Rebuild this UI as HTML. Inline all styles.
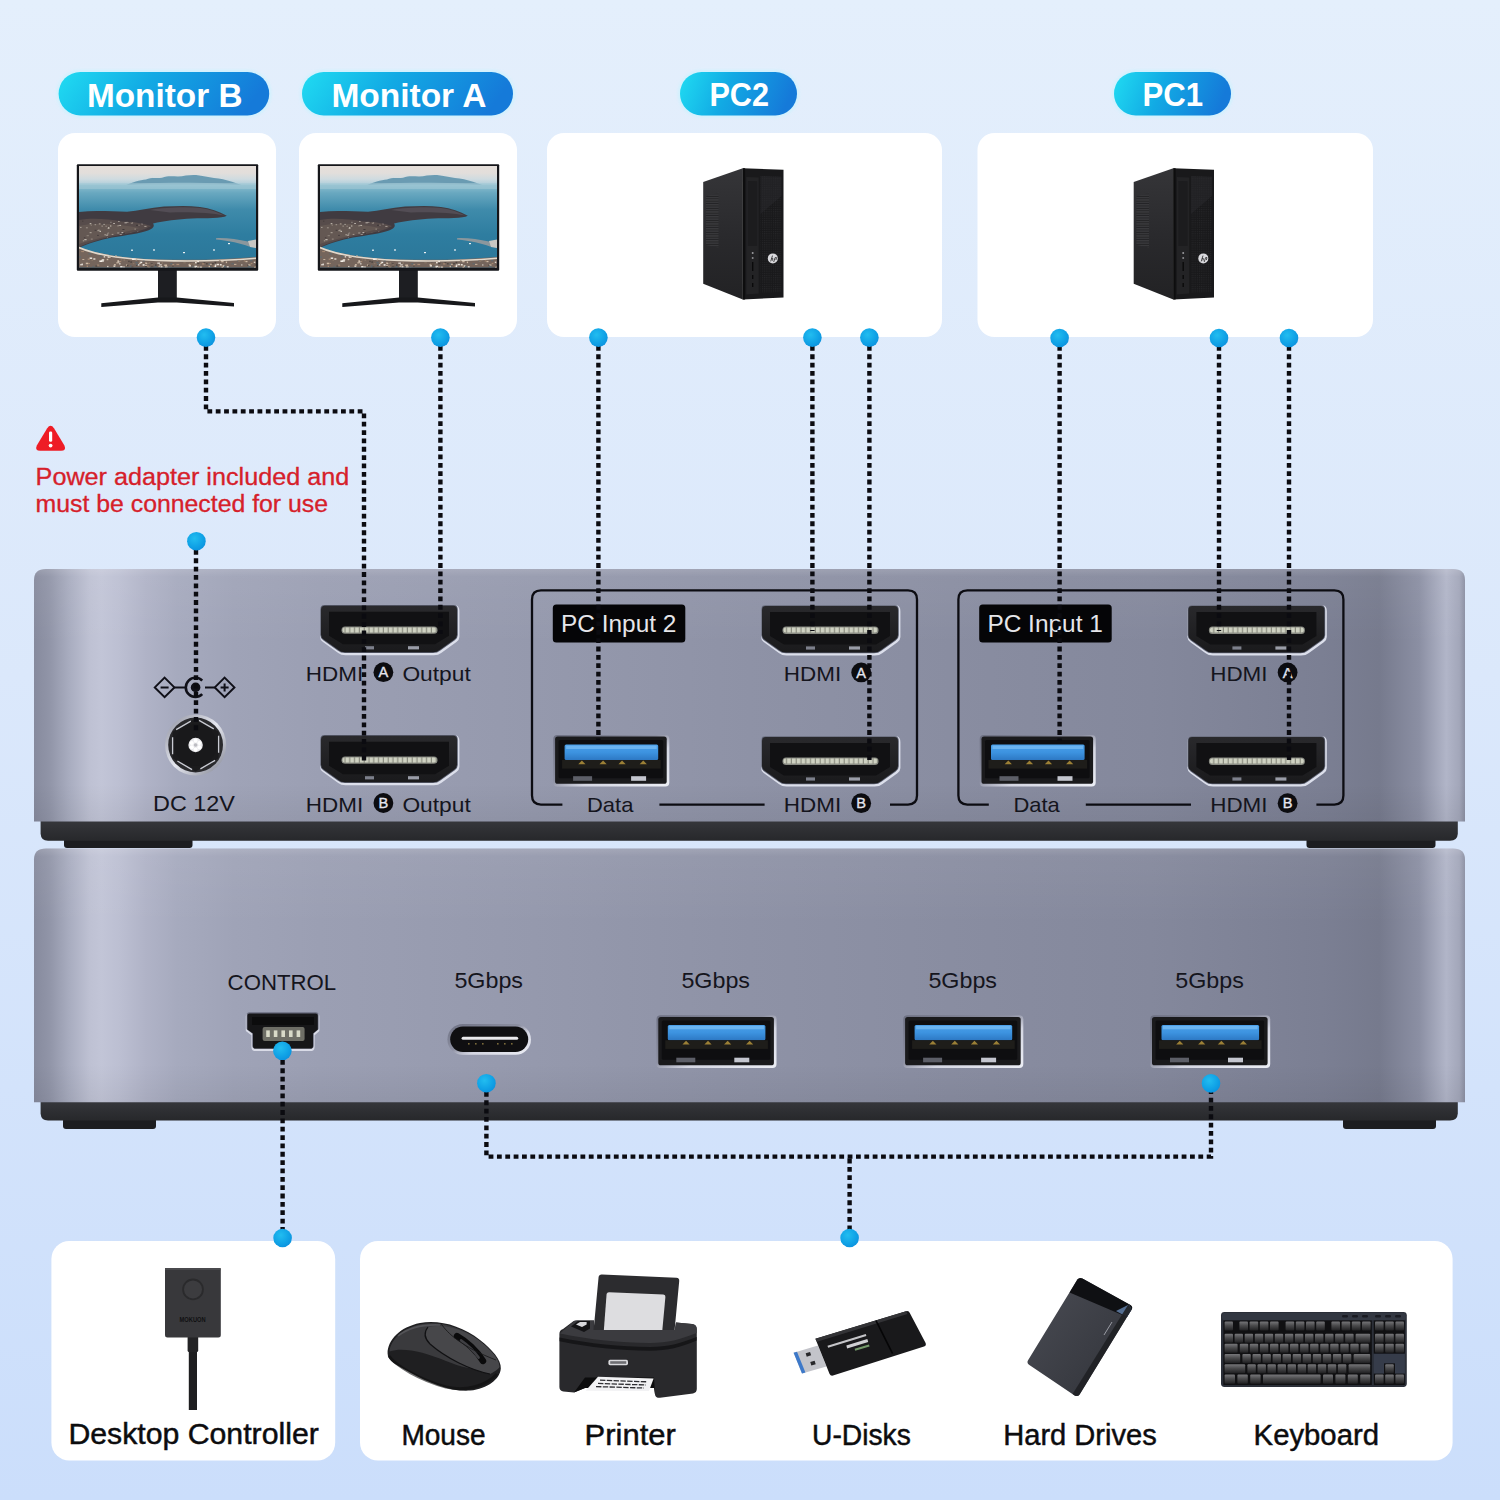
<!DOCTYPE html>
<html><head><meta charset="utf-8"><title>KVM connection diagram</title>
<style>
html,body{margin:0;padding:0;background:#d9e7fb;}
body{width:1500px;height:1500px;overflow:hidden;font-family:"Liberation Sans",sans-serif;}
svg{display:block;font-family:"Liberation Sans",sans-serif;}
</style></head><body>
<svg width="1500" height="1500" viewBox="0 0 1500 1500">
<defs>
<linearGradient id="gBg" x1="0" y1="0" x2="0" y2="1">
 <stop offset="0" stop-color="#e4effc"/><stop offset="0.45" stop-color="#dbe8fb"/><stop offset="1" stop-color="#cbdefb"/>
</linearGradient>
<linearGradient id="gPill" x1="0" y1="0" x2="1" y2="0.15">
 <stop offset="0" stop-color="#20dcf2"/><stop offset="0.45" stop-color="#12aae4"/><stop offset="1" stop-color="#157ad9"/>
</linearGradient>
<radialGradient id="gDot" cx="0.4" cy="0.35" r="0.75">
 <stop offset="0" stop-color="#22bdf0"/><stop offset="0.6" stop-color="#10a2e6"/><stop offset="1" stop-color="#0b8edc"/>
</radialGradient>
<filter id="blur2" x="-10%" y="-30%" width="120%" height="160%"><feGaussianBlur stdDeviation="1.6"/></filter>
<filter id="blur1"><feGaussianBlur stdDeviation="0.7"/></filter>
<linearGradient id="gBody" gradientUnits="userSpaceOnUse" x1="34" y1="0" x2="1465" y2="0">
 <stop offset="0" stop-color="#868a9d"/>
 <stop offset="0.011" stop-color="#9195a8"/>
 <stop offset="0.025" stop-color="#a9adc0"/>
 <stop offset="0.039" stop-color="#bec1d3"/>
 <stop offset="0.047" stop-color="#c2c5d7"/>
 <stop offset="0.06" stop-color="#bcbfd2"/>
 <stop offset="0.078" stop-color="#b0b3c7"/>
 <stop offset="0.1" stop-color="#a6aabe"/>
 <stop offset="0.14" stop-color="#9fa3b7"/>
 <stop offset="0.2" stop-color="#9b9fb3"/>
 <stop offset="0.35" stop-color="#9599ad"/>
 <stop offset="0.5" stop-color="#8e92a6"/>
 <stop offset="0.78" stop-color="#84889c"/>
 <stop offset="0.9" stop-color="#7b7f93"/>
 <stop offset="0.94" stop-color="#767a8d"/>
 <stop offset="0.968" stop-color="#8b8fa3"/>
 <stop offset="0.987" stop-color="#b1b5c8"/>
 <stop offset="0.996" stop-color="#a3a7ba"/>
 <stop offset="1" stop-color="#8b8fa2"/>
</linearGradient>
<linearGradient id="gBodyV" x1="0" y1="0" x2="0" y2="1">
 <stop offset="0" stop-color="#ffffff" stop-opacity="0.16"/>
 <stop offset="0.03" stop-color="#ffffff" stop-opacity="0.05"/>
 <stop offset="0.3" stop-color="#ffffff" stop-opacity="0"/>
 <stop offset="0.85" stop-color="#000000" stop-opacity="0"/>
 <stop offset="1" stop-color="#000000" stop-opacity="0.05"/>
</linearGradient>
<linearGradient id="gBand" x1="0" y1="0" x2="0" y2="1">
 <stop offset="0" stop-color="#3a3b40"/><stop offset="0.5" stop-color="#303135"/><stop offset="1" stop-color="#27282b"/>
</linearGradient>
<linearGradient id="gPort" x1="0" y1="0" x2="0" y2="1">
 <stop offset="0" stop-color="#29292c"/><stop offset="1" stop-color="#1a1a1c"/>
</linearGradient>
<pattern id="pPins" width="4.8" height="6" patternUnits="userSpaceOnUse">
 <rect width="4.8" height="6" fill="#cfd2c2"/><rect x="3.6" width="1.2" height="6" fill="#8b8d80"/>
</pattern>
<linearGradient id="gBlue" x1="0" y1="0" x2="0" y2="1">
 <stop offset="0" stop-color="#4aa0ea"/><stop offset="0.5" stop-color="#3d93e0"/><stop offset="1" stop-color="#2d78c4"/>
</linearGradient>
<linearGradient id="gSky" x1="0" y1="0" x2="0" y2="1">
 <stop offset="0" stop-color="#e6dfda"/><stop offset="0.07" stop-color="#e2dedb"/><stop offset="0.13" stop-color="#cfdbe0"/><stop offset="0.19" stop-color="#a9ccd9"/><stop offset="0.22" stop-color="#9cc5d4"/>
</linearGradient>
<linearGradient id="gSea" x1="0" y1="0" x2="0" y2="1">
 <stop offset="0" stop-color="#8fc0d0"/><stop offset="0.1" stop-color="#69a8c0"/><stop offset="0.3" stop-color="#3f8bab"/><stop offset="0.6" stop-color="#2e7da0"/><stop offset="1" stop-color="#2b7698"/>
</linearGradient>
<clipPath id="cScreen"><rect x="79" y="166" width="177" height="101.4"/></clipPath>
<linearGradient id="gTowerSide" x1="0" y1="0" x2="0" y2="1">
 <stop offset="0" stop-color="#353538"/><stop offset="0.5" stop-color="#2a2a2d"/><stop offset="1" stop-color="#222224"/>
</linearGradient>
<pattern id="pVent" width="4" height="2.4" patternUnits="userSpaceOnUse">
 <rect width="4" height="2.4" fill="#39393c"/><rect y="1.5" width="4" height="0.9" fill="#222224"/>
</pattern>
<pattern id="pMesh" width="2.2" height="2.2" patternUnits="userSpaceOnUse">
 <rect width="2.2" height="2.2" fill="#19191b"/><rect width="1.1" height="1.1" fill="#303033"/>
</pattern>
<linearGradient id="gRim" x1="0" y1="0" x2="1" y2="1">
 <stop offset="0" stop-color="#6d7082"/><stop offset="0.45" stop-color="#8d90a2"/><stop offset="0.62" stop-color="#d4d6e2"/><stop offset="1" stop-color="#eceef5"/>
</linearGradient>
<linearGradient id="gKey" x1="0" y1="0" x2="0" y2="1">
 <stop offset="0" stop-color="#77777a"/><stop offset="0.45" stop-color="#4a4a4c"/><stop offset="1" stop-color="#202022"/>
</linearGradient>
<linearGradient id="gMouse" x1="0" y1="0" x2="1" y2="1">
 <stop offset="0" stop-color="#48484b"/><stop offset="0.5" stop-color="#2d2d30"/><stop offset="1" stop-color="#1b1b1d"/>
</linearGradient>
<linearGradient id="gHdd" x1="0" y1="0" x2="1" y2="1">
 <stop offset="0" stop-color="#4a4c54"/><stop offset="0.6" stop-color="#3b3d44"/><stop offset="1" stop-color="#303238"/>
</linearGradient>
<linearGradient id="gDC" x1="0" y1="0" x2="1" y2="1">
 <stop offset="0" stop-color="#8b8e9c"/><stop offset="0.5" stop-color="#e6e8f0"/><stop offset="1" stop-color="#7d808e"/>
</linearGradient>
</defs>
<rect width="1500" height="1500" fill="url(#gBg)"/>

<rect x="56.6" y="70" width="214.6" height="47.400000000000006" rx="23.700000000000003" fill="#bff4ff" opacity="0.55" filter="url(#blur2)"/><rect x="58.6" y="72" width="210.6" height="43.400000000000006" rx="21.700000000000003" fill="url(#gPill)"/>
<text x="87" y="107.4" font-size="33" fill="#ffffff" font-weight="bold" text-anchor="start" textLength="155.5" lengthAdjust="spacingAndGlyphs" >Monitor B</text>
<rect x="300" y="70" width="215" height="47.400000000000006" rx="23.700000000000003" fill="#bff4ff" opacity="0.55" filter="url(#blur2)"/><rect x="302" y="72" width="211" height="43.400000000000006" rx="21.700000000000003" fill="url(#gPill)"/>
<text x="331.4" y="107.4" font-size="33" fill="#ffffff" font-weight="bold" text-anchor="start" textLength="155" lengthAdjust="spacingAndGlyphs" >Monitor A</text>
<rect x="678" y="70" width="121" height="47.400000000000006" rx="23.700000000000003" fill="#bff4ff" opacity="0.55" filter="url(#blur2)"/><rect x="680" y="72" width="117" height="43.400000000000006" rx="21.700000000000003" fill="url(#gPill)"/>
<text x="709.4" y="105.6" font-size="33.5" fill="#ffffff" font-weight="bold" text-anchor="start" textLength="59.6" lengthAdjust="spacingAndGlyphs" >PC2</text>
<rect x="1112" y="70" width="121" height="47.400000000000006" rx="23.700000000000003" fill="#bff4ff" opacity="0.55" filter="url(#blur2)"/><rect x="1114" y="72" width="117" height="43.400000000000006" rx="21.700000000000003" fill="url(#gPill)"/>
<text x="1142.6" y="105.6" font-size="33.5" fill="#ffffff" font-weight="bold" text-anchor="start" textLength="60.6" lengthAdjust="spacingAndGlyphs" >PC1</text>
<rect x="58" y="133" width="218" height="204" rx="17" fill="#ffffff"/>
<rect x="299" y="133" width="218" height="204" rx="17" fill="#ffffff"/>
<rect x="547" y="133" width="395" height="204" rx="17" fill="#ffffff"/>
<rect x="977.5" y="133" width="395.5" height="204" rx="17" fill="#ffffff"/>
<g transform="translate(0,0)"><rect x="158" y="268" width="18.8" height="33" fill="#1d1e22"/><path d="M101.3,303.2 L158,297.6 H176.8 L234,303 V306.6 L176.8,302.6 H158 L101.3,307 Z" fill="#17181b"/><rect x="76.8" y="164.2" width="181.4" height="106.6" rx="1" fill="#15161a"/><g clip-path="url(#cScreen)"><rect x="79" y="166" width="177" height="101.4" fill="url(#gSky)"/><path d="M124,186 C132,182 140,180 146,179.4 C152,177.4 156,178.4 162,177.8 C168,175.6 172,176.4 178,176.6 C184,175.8 190,174.6 196,175 C203,175.8 208,177.2 214,178 C220,178.2 226,179.8 232,181.8 L244,186 Z" fill="#6a9bb2"/><path d="M124,186 C150,181.6 210,181.4 244,186 Z" fill="#86b4c6" opacity="0.75"/><rect x="79" y="184.6" width="177" height="83" fill="url(#gSea)"/><rect x="79" y="183" width="177" height="6" fill="#a3c9d6" opacity="0.55" filter="url(#blur1)"/><path d="M79,212 C95,210 112,211.6 127,211.8 C138,211 150,208 164,206.6 C176,206.2 188,205.6 200,207 C210,208.4 219,211.6 226.8,215.8 C222,218.6 206,218 192,218.6 C178,219.4 164,221 153,223.4 C155,226 153,228.6 148,230.4 C140,233.4 126,235 112,237.6 C100,240 88,243.6 79,248 Z" fill="#403b41"/><path d="M79,220 C92,217.6 108,219 122,221.4 C134,221.6 144,223.4 151,226 C146,230.4 128,233.6 110,237 C98,239.6 88,243 79,247 Z" fill="#574c4b"/><path d="M79,226 C96,222 118,224 140,228 C128,232 104,236 79,244 Z" fill="#6d6058" opacity="0.6"/><clipPath id="cLand0"><path d="M79,220 C92,217.6 108,219 122,221.4 C134,221.6 144,223.4 151,226 C146,230.4 128,233.6 110,237 C98,239.6 88,243 79,247 Z"/></clipPath><g clip-path="url(#cLand0)"><rect x="102.7" y="223.9" width="1.9" height="1" fill="#d9d2c6" opacity="0.83"/><rect x="86.6" y="235.2" width="2.3" height="1" fill="#b9aea2" opacity="0.51"/><rect x="110.4" y="221.8" width="1.1" height="1" fill="#e8e2d8" opacity="0.52"/><rect x="119.6" y="244.6" width="1.9" height="1" fill="#d9d2c6" opacity="0.73"/><rect x="107.8" y="245.4" width="1.1" height="1" fill="#b9aea2" opacity="0.62"/><rect x="90.1" y="223.1" width="1.4" height="1" fill="#b9aea2" opacity="0.54"/><rect x="120.0" y="224.9" width="1.1" height="1" fill="#d9d2c6" opacity="0.73"/><rect x="123.3" y="232.9" width="1.7" height="1" fill="#3a3436" opacity="0.69"/><rect x="144.6" y="229.4" width="1.3" height="1" fill="#b9aea2" opacity="0.78"/><rect x="97.1" y="234.9" width="1.7" height="1" fill="#3a3436" opacity="0.79"/><rect x="100.2" y="245.5" width="1.2" height="1" fill="#e8e2d8" opacity="0.57"/><rect x="103.9" y="244.3" width="1.6" height="1" fill="#d9d2c6" opacity="0.81"/><rect x="120.1" y="242.8" width="1.4" height="1" fill="#3a3436" opacity="0.74"/><rect x="120.6" y="231.9" width="2.2" height="1" fill="#3a3436" opacity="0.69"/><rect x="126.5" y="221.6" width="2.0" height="1" fill="#e8e2d8" opacity="0.61"/><rect x="107.0" y="237.4" width="1.0" height="1" fill="#e8e2d8" opacity="0.64"/><rect x="122.8" y="232.8" width="1.3" height="1" fill="#3a3436" opacity="0.55"/><rect x="97.3" y="230.2" width="2.2" height="1" fill="#d9d2c6" opacity="0.57"/><rect x="108.1" y="227.2" width="1.2" height="1" fill="#e8e2d8" opacity="0.85"/><rect x="99.5" y="230.8" width="1.5" height="1" fill="#e8e2d8" opacity="0.88"/><rect x="90.6" y="224.6" width="1.3" height="1" fill="#b9aea2" opacity="0.50"/><rect x="138.2" y="224.7" width="1.4" height="1" fill="#b9aea2" opacity="0.67"/><rect x="105.8" y="234.7" width="2.3" height="1" fill="#d9d2c6" opacity="0.68"/><rect x="141.0" y="244.7" width="2.0" height="1" fill="#e8e2d8" opacity="0.66"/><rect x="107.6" y="232.5" width="1.6" height="1" fill="#b9aea2" opacity="0.53"/><rect x="94.6" y="224.2" width="1.5" height="1" fill="#d9d2c6" opacity="0.54"/><rect x="119.7" y="234.0" width="2.3" height="1" fill="#d9d2c6" opacity="0.53"/><rect x="94.6" y="229.8" width="1.9" height="1" fill="#3a3436" opacity="0.74"/><rect x="113.2" y="223.0" width="1.7" height="1" fill="#e8e2d8" opacity="0.69"/><rect x="101.8" y="223.7" width="2.0" height="1" fill="#3a3436" opacity="0.69"/><rect x="128.4" y="233.4" width="1.3" height="1" fill="#3a3436" opacity="0.56"/><rect x="118.0" y="220.7" width="1.7" height="1" fill="#d9d2c6" opacity="0.78"/><rect x="98.3" y="229.5" width="1.2" height="1" fill="#b9aea2" opacity="0.71"/><rect x="134.5" y="228.6" width="1.3" height="1" fill="#b9aea2" opacity="0.82"/><rect x="137.3" y="239.2" width="1.3" height="1" fill="#e8e2d8" opacity="0.64"/><rect x="82.0" y="220.7" width="1.4" height="1" fill="#3a3436" opacity="0.58"/><rect x="122.4" y="229.0" width="2.1" height="1" fill="#3a3436" opacity="0.88"/><rect x="105.5" y="225.7" width="1.3" height="1" fill="#b9aea2" opacity="0.64"/><rect x="113.8" y="245.6" width="1.9" height="1" fill="#d9d2c6" opacity="0.69"/><rect x="125.7" y="240.8" width="1.1" height="1" fill="#d9d2c6" opacity="0.86"/><rect x="134.8" y="239.5" width="1.7" height="1" fill="#b9aea2" opacity="0.67"/><rect x="124.5" y="222.3" width="2.3" height="1" fill="#e8e2d8" opacity="0.69"/><rect x="132.0" y="222.2" width="1.2" height="1" fill="#b9aea2" opacity="0.51"/><rect x="121.4" y="232.1" width="1.9" height="1" fill="#e8e2d8" opacity="0.76"/><rect x="104.5" y="234.3" width="1.2" height="1" fill="#d9d2c6" opacity="0.82"/><rect x="130.8" y="222.7" width="2.0" height="1" fill="#b9aea2" opacity="0.67"/><rect x="141.0" y="241.5" width="1.3" height="1" fill="#3a3436" opacity="0.59"/><rect x="115.1" y="239.9" width="1.5" height="1" fill="#e8e2d8" opacity="0.83"/><rect x="84.3" y="239.2" width="2.3" height="1" fill="#e8e2d8" opacity="0.83"/><rect x="141.5" y="223.4" width="1.2" height="1" fill="#d9d2c6" opacity="0.85"/><rect x="134.4" y="235.8" width="2.1" height="1" fill="#b9aea2" opacity="0.57"/><rect x="113.1" y="238.9" width="1.8" height="1" fill="#3a3436" opacity="0.77"/><rect x="117.2" y="232.5" width="2.1" height="1" fill="#d9d2c6" opacity="0.60"/><rect x="99.4" y="240.1" width="1.7" height="1" fill="#d9d2c6" opacity="0.80"/><rect x="143.9" y="231.5" width="1.9" height="1" fill="#b9aea2" opacity="0.78"/><rect x="111.7" y="233.9" width="1.7" height="1" fill="#b9aea2" opacity="0.78"/><rect x="141.4" y="244.5" width="1.4" height="1" fill="#b9aea2" opacity="0.84"/><rect x="89.6" y="223.2" width="1.6" height="1" fill="#d9d2c6" opacity="0.77"/><rect x="110.0" y="225.5" width="1.4" height="1" fill="#d9d2c6" opacity="0.86"/><rect x="90.8" y="238.6" width="1.9" height="1" fill="#b9aea2" opacity="0.60"/><rect x="89.6" y="232.2" width="2.0" height="1" fill="#d9d2c6" opacity="0.66"/><rect x="114.1" y="245.7" width="2.2" height="1" fill="#b9aea2" opacity="0.78"/><rect x="149.6" y="230.5" width="1.6" height="1" fill="#3a3436" opacity="0.63"/><rect x="130.6" y="220.5" width="1.8" height="1" fill="#e8e2d8" opacity="0.78"/><rect x="106.9" y="233.5" width="1.4" height="1" fill="#d9d2c6" opacity="0.55"/><rect x="144.3" y="225.9" width="2.2" height="1" fill="#d9d2c6" opacity="0.61"/><rect x="82.8" y="240.3" width="1.4" height="1" fill="#b9aea2" opacity="0.83"/><rect x="139.5" y="237.6" width="2.3" height="1" fill="#e8e2d8" opacity="0.56"/><rect x="144.3" y="234.8" width="2.0" height="1" fill="#d9d2c6" opacity="0.61"/><rect x="136.0" y="224.8" width="2.3" height="1" fill="#3a3436" opacity="0.88"/><rect x="124.4" y="240.8" width="1.1" height="1" fill="#b9aea2" opacity="0.53"/><rect x="140.4" y="231.8" width="1.5" height="1" fill="#e8e2d8" opacity="0.87"/><rect x="98.8" y="223.4" width="1.7" height="1" fill="#b9aea2" opacity="0.88"/><rect x="147.8" y="226.8" width="1.3" height="1" fill="#3a3436" opacity="0.75"/><rect x="117.2" y="225.4" width="1.6" height="1" fill="#b9aea2" opacity="0.61"/><rect x="136.3" y="245.9" width="1.1" height="1" fill="#d9d2c6" opacity="0.79"/><rect x="118.6" y="224.9" width="1.7" height="1" fill="#e8e2d8" opacity="0.54"/><rect x="137.3" y="231.2" width="1.7" height="1" fill="#e8e2d8" opacity="0.89"/><rect x="101.5" y="225.6" width="1.3" height="1" fill="#b9aea2" opacity="0.83"/><rect x="129.5" y="236.5" width="1.6" height="1" fill="#3a3436" opacity="0.89"/><rect x="138.6" y="220.4" width="1.9" height="1" fill="#3a3436" opacity="0.67"/><rect x="83.9" y="237.3" width="1.5" height="1" fill="#3a3436" opacity="0.74"/><rect x="128.5" y="221.2" width="1.3" height="1" fill="#3a3436" opacity="0.68"/><rect x="98.4" y="245.0" width="2.4" height="1" fill="#3a3436" opacity="0.60"/><rect x="147.6" y="228.0" width="1.5" height="1" fill="#d9d2c6" opacity="0.63"/><rect x="85.9" y="227.3" width="1.9" height="1" fill="#b9aea2" opacity="0.70"/><rect x="80.3" y="226.9" width="1.1" height="1" fill="#e8e2d8" opacity="0.73"/><rect x="107.6" y="227.8" width="1.9" height="1" fill="#d9d2c6" opacity="0.73"/><rect x="117.0" y="239.5" width="1.9" height="1" fill="#e8e2d8" opacity="0.81"/><rect x="130.4" y="232.8" width="1.4" height="1" fill="#b9aea2" opacity="0.52"/></g><path d="M150,210 C164,207.6 184,206.6 200,208 C210,209.4 218,212.4 224,215.4 C210,213 190,211.6 170,212.6 Z" fill="#57525a" opacity="0.8"/><path d="M79,246.6 C84,249.6 96,253 112,255.4 C132,258.4 152,259.4 172,259.8 C205,260.2 235,258.8 256,257 V268 H79 Z" fill="#75655c"/><path d="M79,247.6 C88,251.6 100,254.6 116,257 C136,259.6 156,260.6 174,260.9 C206,261.3 236,260 256,258.2" stroke="#e2d9cc" stroke-width="1.6" fill="none"/><rect x="226.8" y="266.3" width="1.9" height="1.4" fill="#f4efe8"/><rect x="168.5" y="266.5" width="2.0" height="1.5" fill="#5e6a70"/><rect x="221.4" y="265.8" width="2.5" height="1.4" fill="#8a7868"/><rect x="248.2" y="264.4" width="1.2" height="1.0" fill="#e9e2d8"/><rect x="142.8" y="260.7" width="1.9" height="0.9" fill="#5e6a70"/><rect x="82.3" y="259.1" width="2.0" height="0.9" fill="#cdb9a4"/><rect x="220.2" y="265.3" width="2.6" height="1.0" fill="#8a7868"/><rect x="172.1" y="265.6" width="1.6" height="1.0" fill="#4e4642"/><rect x="126.0" y="264.4" width="1.6" height="1.4" fill="#cdb9a4"/><rect x="160.5" y="266.2" width="2.0" height="1.4" fill="#e9e2d8"/><rect x="214.8" y="264.5" width="1.5" height="1.3" fill="#f4efe8"/><rect x="137.7" y="264.2" width="1.7" height="1.3" fill="#f4efe8"/><rect x="81.2" y="251.1" width="2.8" height="1.0" fill="#a98b74"/><rect x="117.5" y="261.3" width="2.0" height="1.2" fill="#f4efe8"/><rect x="161.5" y="262.2" width="1.5" height="1.6" fill="#8a7868"/><rect x="244.7" y="260.0" width="1.3" height="1.3" fill="#4e4642"/><rect x="255.0" y="267.0" width="1.5" height="1.6" fill="#4e4642"/><rect x="116.3" y="262.3" width="2.4" height="1.1" fill="#cdb9a4"/><rect x="142.6" y="264.2" width="2.0" height="1.5" fill="#f4efe8"/><rect x="203.5" y="262.2" width="1.8" height="1.0" fill="#4e4642"/><rect x="247.1" y="264.7" width="1.7" height="1.0" fill="#4e4642"/><rect x="139.9" y="261.8" width="1.7" height="1.1" fill="#5e6a70"/><rect x="138.9" y="262.4" width="2.3" height="1.5" fill="#cdb9a4"/><rect x="130.3" y="261.3" width="1.8" height="1.5" fill="#4e4642"/><rect x="92.5" y="265.9" width="1.6" height="0.9" fill="#5e6a70"/><rect x="97.0" y="264.6" width="2.2" height="1.0" fill="#a98b74"/><rect x="250.9" y="262.9" width="1.5" height="1.2" fill="#a98b74"/><rect x="248.2" y="266.2" width="2.4" height="1.2" fill="#5e6a70"/><rect x="234.0" y="263.9" width="2.4" height="0.9" fill="#cdb9a4"/><rect x="208.6" y="263.5" width="1.4" height="1.5" fill="#5e6a70"/><rect x="164.9" y="266.5" width="1.4" height="1.2" fill="#8a7868"/><rect x="139.8" y="261.7" width="2.4" height="1.4" fill="#f4efe8"/><rect x="150.9" y="263.0" width="2.1" height="1.2" fill="#4e4642"/><rect x="108.6" y="256.5" width="2.0" height="1.5" fill="#cdb9a4"/><rect x="176.4" y="263.9" width="2.8" height="1.2" fill="#a98b74"/><rect x="103.7" y="256.2" width="1.5" height="1.3" fill="#e9e2d8"/><rect x="135.5" y="261.8" width="2.1" height="1.5" fill="#5e6a70"/><rect x="211.7" y="263.2" width="2.4" height="1.0" fill="#4e4642"/><rect x="126.8" y="264.6" width="1.6" height="1.6" fill="#4e4642"/><rect x="101.3" y="260.2" width="2.5" height="1.5" fill="#f4efe8"/><rect x="95.4" y="265.5" width="1.8" height="1.2" fill="#4e4642"/><rect x="247.8" y="265.9" width="2.7" height="1.0" fill="#5e6a70"/><rect x="154.3" y="265.8" width="2.0" height="1.3" fill="#5e6a70"/><rect x="79.0" y="256.5" width="2.0" height="1.2" fill="#5e6a70"/><rect x="158.5" y="265.8" width="1.4" height="1.3" fill="#cdb9a4"/><rect x="199.7" y="266.6" width="2.3" height="1.5" fill="#f4efe8"/><rect x="237.4" y="260.6" width="1.3" height="1.4" fill="#5e6a70"/><rect x="120.2" y="266.1" width="2.3" height="1.6" fill="#f4efe8"/><rect x="189.9" y="264.2" width="2.3" height="1.0" fill="#4e4642"/><rect x="91.5" y="259.7" width="1.5" height="1.1" fill="#8a7868"/><rect x="218.9" y="260.4" width="1.7" height="1.2" fill="#8a7868"/><rect x="248.7" y="264.4" width="2.0" height="1.1" fill="#cdb9a4"/><rect x="122.7" y="266.6" width="2.2" height="0.9" fill="#f4efe8"/><rect x="113.4" y="265.6" width="1.9" height="1.1" fill="#f4efe8"/><rect x="197.1" y="266.5" width="2.0" height="1.4" fill="#cdb9a4"/><rect x="206.1" y="263.0" width="1.5" height="1.5" fill="#4e4642"/><rect x="209.8" y="263.8" width="2.0" height="1.0" fill="#cdb9a4"/><rect x="214.6" y="261.8" width="1.6" height="1.4" fill="#4e4642"/><rect x="131.2" y="266.6" width="2.2" height="1.5" fill="#4e4642"/><rect x="164.9" y="266.5" width="2.7" height="1.0" fill="#e9e2d8"/><rect x="148.6" y="262.2" width="1.4" height="0.9" fill="#8a7868"/><rect x="89.6" y="257.5" width="2.6" height="1.4" fill="#f4efe8"/><rect x="255.6" y="266.5" width="1.5" height="1.4" fill="#a98b74"/><rect x="171.9" y="264.0" width="2.3" height="1.2" fill="#a98b74"/><rect x="145.2" y="262.5" width="1.4" height="1.0" fill="#cdb9a4"/><rect x="93.3" y="258.3" width="2.1" height="1.4" fill="#e9e2d8"/><rect x="146.3" y="265.5" width="2.5" height="1.2" fill="#a98b74"/><rect x="87.7" y="258.6" width="2.1" height="1.2" fill="#a98b74"/><rect x="136.2" y="264.9" width="1.2" height="1.2" fill="#4e4642"/><rect x="222.7" y="265.4" width="1.8" height="1.2" fill="#e9e2d8"/><rect x="221.2" y="260.8" width="2.4" height="1.5" fill="#cdb9a4"/><rect x="139.0" y="261.4" width="1.3" height="1.4" fill="#8a7868"/><rect x="201.1" y="266.5" width="1.2" height="1.4" fill="#a98b74"/><rect x="241.2" y="264.4" width="1.2" height="1.1" fill="#e9e2d8"/><rect x="163.1" y="266.8" width="1.8" height="1.1" fill="#5e6a70"/><rect x="155.1" y="264.3" width="1.5" height="1.5" fill="#4e4642"/><rect x="209.7" y="265.9" width="1.4" height="1.1" fill="#5e6a70"/><rect x="231.4" y="263.3" width="2.5" height="1.0" fill="#5e6a70"/><rect x="113.9" y="264.1" width="1.9" height="1.4" fill="#cdb9a4"/><rect x="164.3" y="264.5" width="2.8" height="1.5" fill="#cdb9a4"/><rect x="253.8" y="261.7" width="1.5" height="1.2" fill="#e9e2d8"/><rect x="254.0" y="266.8" width="1.6" height="1.2" fill="#cdb9a4"/><rect x="188.8" y="265.1" width="2.1" height="1.4" fill="#f4efe8"/><rect x="213.4" y="265.6" width="1.7" height="1.3" fill="#a98b74"/><rect x="145.0" y="265.2" width="1.9" height="1.0" fill="#cdb9a4"/><rect x="120.7" y="259.4" width="1.5" height="0.9" fill="#8a7868"/><rect x="123.5" y="259.3" width="1.6" height="1.5" fill="#8a7868"/><rect x="194.6" y="266.9" width="1.2" height="1.5" fill="#e9e2d8"/><rect x="119.9" y="261.1" width="1.3" height="1.1" fill="#a98b74"/><rect x="100.1" y="255.7" width="2.1" height="1.6" fill="#5e6a70"/><rect x="144.9" y="266.1" width="2.2" height="1.4" fill="#4e4642"/><rect x="196.7" y="260.9" width="2.2" height="1.3" fill="#f4efe8"/><rect x="117.5" y="260.0" width="1.3" height="1.6" fill="#cdb9a4"/><rect x="85.8" y="262.7" width="2.5" height="1.5" fill="#cdb9a4"/><rect x="151.4" y="263.7" width="1.7" height="1.0" fill="#8a7868"/><rect x="219.8" y="264.0" width="1.9" height="1.5" fill="#e9e2d8"/><rect x="196.5" y="261.8" width="1.3" height="1.0" fill="#8a7868"/><rect x="202.1" y="263.3" width="2.3" height="1.2" fill="#a98b74"/><rect x="88.1" y="263.0" width="1.9" height="0.9" fill="#a98b74"/><rect x="214.7" y="265.7" width="1.5" height="1.4" fill="#f4efe8"/><rect x="115.0" y="255.5" width="1.9" height="1.5" fill="#cdb9a4"/><rect x="150.9" y="266.4" width="2.4" height="1.0" fill="#4e4642"/><rect x="88.2" y="253.4" width="2.7" height="1.0" fill="#5e6a70"/><rect x="189.1" y="263.2" width="1.5" height="1.1" fill="#8a7868"/><rect x="107.6" y="256.5" width="1.4" height="1.2" fill="#e9e2d8"/><rect x="221.5" y="266.8" width="1.7" height="1.5" fill="#cdb9a4"/><rect x="86.7" y="265.6" width="1.3" height="1.5" fill="#a98b74"/><rect x="147.7" y="266.4" width="2.3" height="1.5" fill="#8a7868"/><rect x="192.3" y="266.1" width="1.8" height="1.5" fill="#8a7868"/><rect x="225.8" y="261.5" width="1.3" height="1.6" fill="#cdb9a4"/><rect x="106.7" y="258.8" width="1.6" height="1.4" fill="#cdb9a4"/><rect x="237.8" y="260.3" width="2.5" height="1.4" fill="#8a7868"/><rect x="197.2" y="262.8" width="2.2" height="1.3" fill="#4e4642"/><rect x="190.0" y="262.8" width="1.7" height="1.1" fill="#4e4642"/><rect x="147.9" y="263.0" width="1.9" height="0.9" fill="#8a7868"/><rect x="188.5" y="264.0" width="1.9" height="1.3" fill="#cdb9a4"/><rect x="224.0" y="265.9" width="2.0" height="1.0" fill="#5e6a70"/><rect x="101.7" y="259.2" width="2.5" height="1.3" fill="#e9e2d8"/><rect x="195.3" y="261.1" width="1.3" height="1.4" fill="#cdb9a4"/><rect x="216.6" y="263.8" width="2.4" height="1.5" fill="#e9e2d8"/><rect x="194.5" y="265.7" width="2.6" height="1.6" fill="#e9e2d8"/><rect x="208.6" y="265.8" width="1.4" height="1.5" fill="#cdb9a4"/><rect x="130.0" y="265.3" width="1.5" height="1.5" fill="#5e6a70"/><rect x="243.7" y="260.4" width="2.2" height="1.1" fill="#a98b74"/><rect x="136.3" y="263.9" width="1.9" height="1.1" fill="#5e6a70"/><rect x="249.7" y="263.3" width="1.6" height="1.3" fill="#8a7868"/><rect x="135.5" y="259.0" width="1.8" height="1.3" fill="#cdb9a4"/><rect x="128.2" y="260.7" width="1.5" height="1.4" fill="#4e4642"/><rect x="99.4" y="260.4" width="2.6" height="1.6" fill="#f4efe8"/><rect x="159.2" y="264.4" width="2.6" height="1.0" fill="#f4efe8"/><rect x="254.8" y="264.3" width="2.4" height="1.2" fill="#4e4642"/><rect x="145.5" y="262.8" width="1.8" height="1.4" fill="#cdb9a4"/><rect x="157.3" y="262.6" width="2.7" height="1.1" fill="#f4efe8"/><rect x="170.4" y="263.1" width="2.1" height="1.4" fill="#5e6a70"/><rect x="134.3" y="258.6" width="1.6" height="1.1" fill="#e9e2d8"/><rect x="189.7" y="263.5" width="2.6" height="1.0" fill="#a98b74"/><rect x="119.2" y="263.2" width="1.3" height="1.3" fill="#e9e2d8"/><rect x="132.8" y="262.9" width="1.6" height="1.3" fill="#8a7868"/><rect x="183.3" y="262.3" width="2.5" height="1.0" fill="#8a7868"/><rect x="81.5" y="263.6" width="1.4" height="1.0" fill="#f4efe8"/><rect x="192.0" y="266.2" width="1.6" height="1.5" fill="#5e6a70"/><rect x="250.2" y="260.2" width="2.1" height="1.1" fill="#5e6a70"/><rect x="193.3" y="263.6" width="2.4" height="1.1" fill="#8a7868"/><rect x="238.9" y="260.3" width="1.2" height="1.0" fill="#8a7868"/><rect x="107.2" y="265.9" width="1.2" height="1.3" fill="#e9e2d8"/><rect x="245.5" y="260.9" width="2.0" height="1.3" fill="#cdb9a4"/><rect x="193.6" y="263.4" width="1.5" height="1.1" fill="#8a7868"/><rect x="132.1" y="258.6" width="2.5" height="1.4" fill="#f4efe8"/><rect x="80.1" y="264.3" width="2.7" height="1.0" fill="#f4efe8"/><rect x="195.0" y="262.0" width="1.6" height="1.4" fill="#e9e2d8"/><path d="M216,238.2 C226,237.6 238,239.6 248,241.4 L256,240.6 V247.4 L249,246.4 C240,243.4 230,241 216,239.6 Z" fill="#8b979d"/><path d="M248,241 L256,239.6 V248 L250,247 Z" fill="#c7c6c2"/><rect x="131" y="249.6" width="2" height="1.2" fill="#eef3f5"/><rect x="153" y="249.4" width="2" height="1.2" fill="#eef3f5"/><rect x="183" y="252" width="2" height="1.2" fill="#eef3f5"/><rect x="213" y="249.4" width="2" height="1.2" fill="#eef3f5"/><rect x="228" y="243" width="2" height="1.2" fill="#eef3f5"/></g></g>
<g transform="translate(241,0)"><rect x="158" y="268" width="18.8" height="33" fill="#1d1e22"/><path d="M101.3,303.2 L158,297.6 H176.8 L234,303 V306.6 L176.8,302.6 H158 L101.3,307 Z" fill="#17181b"/><rect x="76.8" y="164.2" width="181.4" height="106.6" rx="1" fill="#15161a"/><g clip-path="url(#cScreen)"><rect x="79" y="166" width="177" height="101.4" fill="url(#gSky)"/><path d="M124,186 C132,182 140,180 146,179.4 C152,177.4 156,178.4 162,177.8 C168,175.6 172,176.4 178,176.6 C184,175.8 190,174.6 196,175 C203,175.8 208,177.2 214,178 C220,178.2 226,179.8 232,181.8 L244,186 Z" fill="#6a9bb2"/><path d="M124,186 C150,181.6 210,181.4 244,186 Z" fill="#86b4c6" opacity="0.75"/><rect x="79" y="184.6" width="177" height="83" fill="url(#gSea)"/><rect x="79" y="183" width="177" height="6" fill="#a3c9d6" opacity="0.55" filter="url(#blur1)"/><path d="M79,212 C95,210 112,211.6 127,211.8 C138,211 150,208 164,206.6 C176,206.2 188,205.6 200,207 C210,208.4 219,211.6 226.8,215.8 C222,218.6 206,218 192,218.6 C178,219.4 164,221 153,223.4 C155,226 153,228.6 148,230.4 C140,233.4 126,235 112,237.6 C100,240 88,243.6 79,248 Z" fill="#403b41"/><path d="M79,220 C92,217.6 108,219 122,221.4 C134,221.6 144,223.4 151,226 C146,230.4 128,233.6 110,237 C98,239.6 88,243 79,247 Z" fill="#574c4b"/><path d="M79,226 C96,222 118,224 140,228 C128,232 104,236 79,244 Z" fill="#6d6058" opacity="0.6"/><clipPath id="cLand241"><path d="M79,220 C92,217.6 108,219 122,221.4 C134,221.6 144,223.4 151,226 C146,230.4 128,233.6 110,237 C98,239.6 88,243 79,247 Z"/></clipPath><g clip-path="url(#cLand241)"><rect x="102.7" y="223.9" width="1.9" height="1" fill="#d9d2c6" opacity="0.83"/><rect x="86.6" y="235.2" width="2.3" height="1" fill="#b9aea2" opacity="0.51"/><rect x="110.4" y="221.8" width="1.1" height="1" fill="#e8e2d8" opacity="0.52"/><rect x="119.6" y="244.6" width="1.9" height="1" fill="#d9d2c6" opacity="0.73"/><rect x="107.8" y="245.4" width="1.1" height="1" fill="#b9aea2" opacity="0.62"/><rect x="90.1" y="223.1" width="1.4" height="1" fill="#b9aea2" opacity="0.54"/><rect x="120.0" y="224.9" width="1.1" height="1" fill="#d9d2c6" opacity="0.73"/><rect x="123.3" y="232.9" width="1.7" height="1" fill="#3a3436" opacity="0.69"/><rect x="144.6" y="229.4" width="1.3" height="1" fill="#b9aea2" opacity="0.78"/><rect x="97.1" y="234.9" width="1.7" height="1" fill="#3a3436" opacity="0.79"/><rect x="100.2" y="245.5" width="1.2" height="1" fill="#e8e2d8" opacity="0.57"/><rect x="103.9" y="244.3" width="1.6" height="1" fill="#d9d2c6" opacity="0.81"/><rect x="120.1" y="242.8" width="1.4" height="1" fill="#3a3436" opacity="0.74"/><rect x="120.6" y="231.9" width="2.2" height="1" fill="#3a3436" opacity="0.69"/><rect x="126.5" y="221.6" width="2.0" height="1" fill="#e8e2d8" opacity="0.61"/><rect x="107.0" y="237.4" width="1.0" height="1" fill="#e8e2d8" opacity="0.64"/><rect x="122.8" y="232.8" width="1.3" height="1" fill="#3a3436" opacity="0.55"/><rect x="97.3" y="230.2" width="2.2" height="1" fill="#d9d2c6" opacity="0.57"/><rect x="108.1" y="227.2" width="1.2" height="1" fill="#e8e2d8" opacity="0.85"/><rect x="99.5" y="230.8" width="1.5" height="1" fill="#e8e2d8" opacity="0.88"/><rect x="90.6" y="224.6" width="1.3" height="1" fill="#b9aea2" opacity="0.50"/><rect x="138.2" y="224.7" width="1.4" height="1" fill="#b9aea2" opacity="0.67"/><rect x="105.8" y="234.7" width="2.3" height="1" fill="#d9d2c6" opacity="0.68"/><rect x="141.0" y="244.7" width="2.0" height="1" fill="#e8e2d8" opacity="0.66"/><rect x="107.6" y="232.5" width="1.6" height="1" fill="#b9aea2" opacity="0.53"/><rect x="94.6" y="224.2" width="1.5" height="1" fill="#d9d2c6" opacity="0.54"/><rect x="119.7" y="234.0" width="2.3" height="1" fill="#d9d2c6" opacity="0.53"/><rect x="94.6" y="229.8" width="1.9" height="1" fill="#3a3436" opacity="0.74"/><rect x="113.2" y="223.0" width="1.7" height="1" fill="#e8e2d8" opacity="0.69"/><rect x="101.8" y="223.7" width="2.0" height="1" fill="#3a3436" opacity="0.69"/><rect x="128.4" y="233.4" width="1.3" height="1" fill="#3a3436" opacity="0.56"/><rect x="118.0" y="220.7" width="1.7" height="1" fill="#d9d2c6" opacity="0.78"/><rect x="98.3" y="229.5" width="1.2" height="1" fill="#b9aea2" opacity="0.71"/><rect x="134.5" y="228.6" width="1.3" height="1" fill="#b9aea2" opacity="0.82"/><rect x="137.3" y="239.2" width="1.3" height="1" fill="#e8e2d8" opacity="0.64"/><rect x="82.0" y="220.7" width="1.4" height="1" fill="#3a3436" opacity="0.58"/><rect x="122.4" y="229.0" width="2.1" height="1" fill="#3a3436" opacity="0.88"/><rect x="105.5" y="225.7" width="1.3" height="1" fill="#b9aea2" opacity="0.64"/><rect x="113.8" y="245.6" width="1.9" height="1" fill="#d9d2c6" opacity="0.69"/><rect x="125.7" y="240.8" width="1.1" height="1" fill="#d9d2c6" opacity="0.86"/><rect x="134.8" y="239.5" width="1.7" height="1" fill="#b9aea2" opacity="0.67"/><rect x="124.5" y="222.3" width="2.3" height="1" fill="#e8e2d8" opacity="0.69"/><rect x="132.0" y="222.2" width="1.2" height="1" fill="#b9aea2" opacity="0.51"/><rect x="121.4" y="232.1" width="1.9" height="1" fill="#e8e2d8" opacity="0.76"/><rect x="104.5" y="234.3" width="1.2" height="1" fill="#d9d2c6" opacity="0.82"/><rect x="130.8" y="222.7" width="2.0" height="1" fill="#b9aea2" opacity="0.67"/><rect x="141.0" y="241.5" width="1.3" height="1" fill="#3a3436" opacity="0.59"/><rect x="115.1" y="239.9" width="1.5" height="1" fill="#e8e2d8" opacity="0.83"/><rect x="84.3" y="239.2" width="2.3" height="1" fill="#e8e2d8" opacity="0.83"/><rect x="141.5" y="223.4" width="1.2" height="1" fill="#d9d2c6" opacity="0.85"/><rect x="134.4" y="235.8" width="2.1" height="1" fill="#b9aea2" opacity="0.57"/><rect x="113.1" y="238.9" width="1.8" height="1" fill="#3a3436" opacity="0.77"/><rect x="117.2" y="232.5" width="2.1" height="1" fill="#d9d2c6" opacity="0.60"/><rect x="99.4" y="240.1" width="1.7" height="1" fill="#d9d2c6" opacity="0.80"/><rect x="143.9" y="231.5" width="1.9" height="1" fill="#b9aea2" opacity="0.78"/><rect x="111.7" y="233.9" width="1.7" height="1" fill="#b9aea2" opacity="0.78"/><rect x="141.4" y="244.5" width="1.4" height="1" fill="#b9aea2" opacity="0.84"/><rect x="89.6" y="223.2" width="1.6" height="1" fill="#d9d2c6" opacity="0.77"/><rect x="110.0" y="225.5" width="1.4" height="1" fill="#d9d2c6" opacity="0.86"/><rect x="90.8" y="238.6" width="1.9" height="1" fill="#b9aea2" opacity="0.60"/><rect x="89.6" y="232.2" width="2.0" height="1" fill="#d9d2c6" opacity="0.66"/><rect x="114.1" y="245.7" width="2.2" height="1" fill="#b9aea2" opacity="0.78"/><rect x="149.6" y="230.5" width="1.6" height="1" fill="#3a3436" opacity="0.63"/><rect x="130.6" y="220.5" width="1.8" height="1" fill="#e8e2d8" opacity="0.78"/><rect x="106.9" y="233.5" width="1.4" height="1" fill="#d9d2c6" opacity="0.55"/><rect x="144.3" y="225.9" width="2.2" height="1" fill="#d9d2c6" opacity="0.61"/><rect x="82.8" y="240.3" width="1.4" height="1" fill="#b9aea2" opacity="0.83"/><rect x="139.5" y="237.6" width="2.3" height="1" fill="#e8e2d8" opacity="0.56"/><rect x="144.3" y="234.8" width="2.0" height="1" fill="#d9d2c6" opacity="0.61"/><rect x="136.0" y="224.8" width="2.3" height="1" fill="#3a3436" opacity="0.88"/><rect x="124.4" y="240.8" width="1.1" height="1" fill="#b9aea2" opacity="0.53"/><rect x="140.4" y="231.8" width="1.5" height="1" fill="#e8e2d8" opacity="0.87"/><rect x="98.8" y="223.4" width="1.7" height="1" fill="#b9aea2" opacity="0.88"/><rect x="147.8" y="226.8" width="1.3" height="1" fill="#3a3436" opacity="0.75"/><rect x="117.2" y="225.4" width="1.6" height="1" fill="#b9aea2" opacity="0.61"/><rect x="136.3" y="245.9" width="1.1" height="1" fill="#d9d2c6" opacity="0.79"/><rect x="118.6" y="224.9" width="1.7" height="1" fill="#e8e2d8" opacity="0.54"/><rect x="137.3" y="231.2" width="1.7" height="1" fill="#e8e2d8" opacity="0.89"/><rect x="101.5" y="225.6" width="1.3" height="1" fill="#b9aea2" opacity="0.83"/><rect x="129.5" y="236.5" width="1.6" height="1" fill="#3a3436" opacity="0.89"/><rect x="138.6" y="220.4" width="1.9" height="1" fill="#3a3436" opacity="0.67"/><rect x="83.9" y="237.3" width="1.5" height="1" fill="#3a3436" opacity="0.74"/><rect x="128.5" y="221.2" width="1.3" height="1" fill="#3a3436" opacity="0.68"/><rect x="98.4" y="245.0" width="2.4" height="1" fill="#3a3436" opacity="0.60"/><rect x="147.6" y="228.0" width="1.5" height="1" fill="#d9d2c6" opacity="0.63"/><rect x="85.9" y="227.3" width="1.9" height="1" fill="#b9aea2" opacity="0.70"/><rect x="80.3" y="226.9" width="1.1" height="1" fill="#e8e2d8" opacity="0.73"/><rect x="107.6" y="227.8" width="1.9" height="1" fill="#d9d2c6" opacity="0.73"/><rect x="117.0" y="239.5" width="1.9" height="1" fill="#e8e2d8" opacity="0.81"/><rect x="130.4" y="232.8" width="1.4" height="1" fill="#b9aea2" opacity="0.52"/></g><path d="M150,210 C164,207.6 184,206.6 200,208 C210,209.4 218,212.4 224,215.4 C210,213 190,211.6 170,212.6 Z" fill="#57525a" opacity="0.8"/><path d="M79,246.6 C84,249.6 96,253 112,255.4 C132,258.4 152,259.4 172,259.8 C205,260.2 235,258.8 256,257 V268 H79 Z" fill="#75655c"/><path d="M79,247.6 C88,251.6 100,254.6 116,257 C136,259.6 156,260.6 174,260.9 C206,261.3 236,260 256,258.2" stroke="#e2d9cc" stroke-width="1.6" fill="none"/><rect x="226.8" y="266.3" width="1.9" height="1.4" fill="#f4efe8"/><rect x="168.5" y="266.5" width="2.0" height="1.5" fill="#5e6a70"/><rect x="221.4" y="265.8" width="2.5" height="1.4" fill="#8a7868"/><rect x="248.2" y="264.4" width="1.2" height="1.0" fill="#e9e2d8"/><rect x="142.8" y="260.7" width="1.9" height="0.9" fill="#5e6a70"/><rect x="82.3" y="259.1" width="2.0" height="0.9" fill="#cdb9a4"/><rect x="220.2" y="265.3" width="2.6" height="1.0" fill="#8a7868"/><rect x="172.1" y="265.6" width="1.6" height="1.0" fill="#4e4642"/><rect x="126.0" y="264.4" width="1.6" height="1.4" fill="#cdb9a4"/><rect x="160.5" y="266.2" width="2.0" height="1.4" fill="#e9e2d8"/><rect x="214.8" y="264.5" width="1.5" height="1.3" fill="#f4efe8"/><rect x="137.7" y="264.2" width="1.7" height="1.3" fill="#f4efe8"/><rect x="81.2" y="251.1" width="2.8" height="1.0" fill="#a98b74"/><rect x="117.5" y="261.3" width="2.0" height="1.2" fill="#f4efe8"/><rect x="161.5" y="262.2" width="1.5" height="1.6" fill="#8a7868"/><rect x="244.7" y="260.0" width="1.3" height="1.3" fill="#4e4642"/><rect x="255.0" y="267.0" width="1.5" height="1.6" fill="#4e4642"/><rect x="116.3" y="262.3" width="2.4" height="1.1" fill="#cdb9a4"/><rect x="142.6" y="264.2" width="2.0" height="1.5" fill="#f4efe8"/><rect x="203.5" y="262.2" width="1.8" height="1.0" fill="#4e4642"/><rect x="247.1" y="264.7" width="1.7" height="1.0" fill="#4e4642"/><rect x="139.9" y="261.8" width="1.7" height="1.1" fill="#5e6a70"/><rect x="138.9" y="262.4" width="2.3" height="1.5" fill="#cdb9a4"/><rect x="130.3" y="261.3" width="1.8" height="1.5" fill="#4e4642"/><rect x="92.5" y="265.9" width="1.6" height="0.9" fill="#5e6a70"/><rect x="97.0" y="264.6" width="2.2" height="1.0" fill="#a98b74"/><rect x="250.9" y="262.9" width="1.5" height="1.2" fill="#a98b74"/><rect x="248.2" y="266.2" width="2.4" height="1.2" fill="#5e6a70"/><rect x="234.0" y="263.9" width="2.4" height="0.9" fill="#cdb9a4"/><rect x="208.6" y="263.5" width="1.4" height="1.5" fill="#5e6a70"/><rect x="164.9" y="266.5" width="1.4" height="1.2" fill="#8a7868"/><rect x="139.8" y="261.7" width="2.4" height="1.4" fill="#f4efe8"/><rect x="150.9" y="263.0" width="2.1" height="1.2" fill="#4e4642"/><rect x="108.6" y="256.5" width="2.0" height="1.5" fill="#cdb9a4"/><rect x="176.4" y="263.9" width="2.8" height="1.2" fill="#a98b74"/><rect x="103.7" y="256.2" width="1.5" height="1.3" fill="#e9e2d8"/><rect x="135.5" y="261.8" width="2.1" height="1.5" fill="#5e6a70"/><rect x="211.7" y="263.2" width="2.4" height="1.0" fill="#4e4642"/><rect x="126.8" y="264.6" width="1.6" height="1.6" fill="#4e4642"/><rect x="101.3" y="260.2" width="2.5" height="1.5" fill="#f4efe8"/><rect x="95.4" y="265.5" width="1.8" height="1.2" fill="#4e4642"/><rect x="247.8" y="265.9" width="2.7" height="1.0" fill="#5e6a70"/><rect x="154.3" y="265.8" width="2.0" height="1.3" fill="#5e6a70"/><rect x="79.0" y="256.5" width="2.0" height="1.2" fill="#5e6a70"/><rect x="158.5" y="265.8" width="1.4" height="1.3" fill="#cdb9a4"/><rect x="199.7" y="266.6" width="2.3" height="1.5" fill="#f4efe8"/><rect x="237.4" y="260.6" width="1.3" height="1.4" fill="#5e6a70"/><rect x="120.2" y="266.1" width="2.3" height="1.6" fill="#f4efe8"/><rect x="189.9" y="264.2" width="2.3" height="1.0" fill="#4e4642"/><rect x="91.5" y="259.7" width="1.5" height="1.1" fill="#8a7868"/><rect x="218.9" y="260.4" width="1.7" height="1.2" fill="#8a7868"/><rect x="248.7" y="264.4" width="2.0" height="1.1" fill="#cdb9a4"/><rect x="122.7" y="266.6" width="2.2" height="0.9" fill="#f4efe8"/><rect x="113.4" y="265.6" width="1.9" height="1.1" fill="#f4efe8"/><rect x="197.1" y="266.5" width="2.0" height="1.4" fill="#cdb9a4"/><rect x="206.1" y="263.0" width="1.5" height="1.5" fill="#4e4642"/><rect x="209.8" y="263.8" width="2.0" height="1.0" fill="#cdb9a4"/><rect x="214.6" y="261.8" width="1.6" height="1.4" fill="#4e4642"/><rect x="131.2" y="266.6" width="2.2" height="1.5" fill="#4e4642"/><rect x="164.9" y="266.5" width="2.7" height="1.0" fill="#e9e2d8"/><rect x="148.6" y="262.2" width="1.4" height="0.9" fill="#8a7868"/><rect x="89.6" y="257.5" width="2.6" height="1.4" fill="#f4efe8"/><rect x="255.6" y="266.5" width="1.5" height="1.4" fill="#a98b74"/><rect x="171.9" y="264.0" width="2.3" height="1.2" fill="#a98b74"/><rect x="145.2" y="262.5" width="1.4" height="1.0" fill="#cdb9a4"/><rect x="93.3" y="258.3" width="2.1" height="1.4" fill="#e9e2d8"/><rect x="146.3" y="265.5" width="2.5" height="1.2" fill="#a98b74"/><rect x="87.7" y="258.6" width="2.1" height="1.2" fill="#a98b74"/><rect x="136.2" y="264.9" width="1.2" height="1.2" fill="#4e4642"/><rect x="222.7" y="265.4" width="1.8" height="1.2" fill="#e9e2d8"/><rect x="221.2" y="260.8" width="2.4" height="1.5" fill="#cdb9a4"/><rect x="139.0" y="261.4" width="1.3" height="1.4" fill="#8a7868"/><rect x="201.1" y="266.5" width="1.2" height="1.4" fill="#a98b74"/><rect x="241.2" y="264.4" width="1.2" height="1.1" fill="#e9e2d8"/><rect x="163.1" y="266.8" width="1.8" height="1.1" fill="#5e6a70"/><rect x="155.1" y="264.3" width="1.5" height="1.5" fill="#4e4642"/><rect x="209.7" y="265.9" width="1.4" height="1.1" fill="#5e6a70"/><rect x="231.4" y="263.3" width="2.5" height="1.0" fill="#5e6a70"/><rect x="113.9" y="264.1" width="1.9" height="1.4" fill="#cdb9a4"/><rect x="164.3" y="264.5" width="2.8" height="1.5" fill="#cdb9a4"/><rect x="253.8" y="261.7" width="1.5" height="1.2" fill="#e9e2d8"/><rect x="254.0" y="266.8" width="1.6" height="1.2" fill="#cdb9a4"/><rect x="188.8" y="265.1" width="2.1" height="1.4" fill="#f4efe8"/><rect x="213.4" y="265.6" width="1.7" height="1.3" fill="#a98b74"/><rect x="145.0" y="265.2" width="1.9" height="1.0" fill="#cdb9a4"/><rect x="120.7" y="259.4" width="1.5" height="0.9" fill="#8a7868"/><rect x="123.5" y="259.3" width="1.6" height="1.5" fill="#8a7868"/><rect x="194.6" y="266.9" width="1.2" height="1.5" fill="#e9e2d8"/><rect x="119.9" y="261.1" width="1.3" height="1.1" fill="#a98b74"/><rect x="100.1" y="255.7" width="2.1" height="1.6" fill="#5e6a70"/><rect x="144.9" y="266.1" width="2.2" height="1.4" fill="#4e4642"/><rect x="196.7" y="260.9" width="2.2" height="1.3" fill="#f4efe8"/><rect x="117.5" y="260.0" width="1.3" height="1.6" fill="#cdb9a4"/><rect x="85.8" y="262.7" width="2.5" height="1.5" fill="#cdb9a4"/><rect x="151.4" y="263.7" width="1.7" height="1.0" fill="#8a7868"/><rect x="219.8" y="264.0" width="1.9" height="1.5" fill="#e9e2d8"/><rect x="196.5" y="261.8" width="1.3" height="1.0" fill="#8a7868"/><rect x="202.1" y="263.3" width="2.3" height="1.2" fill="#a98b74"/><rect x="88.1" y="263.0" width="1.9" height="0.9" fill="#a98b74"/><rect x="214.7" y="265.7" width="1.5" height="1.4" fill="#f4efe8"/><rect x="115.0" y="255.5" width="1.9" height="1.5" fill="#cdb9a4"/><rect x="150.9" y="266.4" width="2.4" height="1.0" fill="#4e4642"/><rect x="88.2" y="253.4" width="2.7" height="1.0" fill="#5e6a70"/><rect x="189.1" y="263.2" width="1.5" height="1.1" fill="#8a7868"/><rect x="107.6" y="256.5" width="1.4" height="1.2" fill="#e9e2d8"/><rect x="221.5" y="266.8" width="1.7" height="1.5" fill="#cdb9a4"/><rect x="86.7" y="265.6" width="1.3" height="1.5" fill="#a98b74"/><rect x="147.7" y="266.4" width="2.3" height="1.5" fill="#8a7868"/><rect x="192.3" y="266.1" width="1.8" height="1.5" fill="#8a7868"/><rect x="225.8" y="261.5" width="1.3" height="1.6" fill="#cdb9a4"/><rect x="106.7" y="258.8" width="1.6" height="1.4" fill="#cdb9a4"/><rect x="237.8" y="260.3" width="2.5" height="1.4" fill="#8a7868"/><rect x="197.2" y="262.8" width="2.2" height="1.3" fill="#4e4642"/><rect x="190.0" y="262.8" width="1.7" height="1.1" fill="#4e4642"/><rect x="147.9" y="263.0" width="1.9" height="0.9" fill="#8a7868"/><rect x="188.5" y="264.0" width="1.9" height="1.3" fill="#cdb9a4"/><rect x="224.0" y="265.9" width="2.0" height="1.0" fill="#5e6a70"/><rect x="101.7" y="259.2" width="2.5" height="1.3" fill="#e9e2d8"/><rect x="195.3" y="261.1" width="1.3" height="1.4" fill="#cdb9a4"/><rect x="216.6" y="263.8" width="2.4" height="1.5" fill="#e9e2d8"/><rect x="194.5" y="265.7" width="2.6" height="1.6" fill="#e9e2d8"/><rect x="208.6" y="265.8" width="1.4" height="1.5" fill="#cdb9a4"/><rect x="130.0" y="265.3" width="1.5" height="1.5" fill="#5e6a70"/><rect x="243.7" y="260.4" width="2.2" height="1.1" fill="#a98b74"/><rect x="136.3" y="263.9" width="1.9" height="1.1" fill="#5e6a70"/><rect x="249.7" y="263.3" width="1.6" height="1.3" fill="#8a7868"/><rect x="135.5" y="259.0" width="1.8" height="1.3" fill="#cdb9a4"/><rect x="128.2" y="260.7" width="1.5" height="1.4" fill="#4e4642"/><rect x="99.4" y="260.4" width="2.6" height="1.6" fill="#f4efe8"/><rect x="159.2" y="264.4" width="2.6" height="1.0" fill="#f4efe8"/><rect x="254.8" y="264.3" width="2.4" height="1.2" fill="#4e4642"/><rect x="145.5" y="262.8" width="1.8" height="1.4" fill="#cdb9a4"/><rect x="157.3" y="262.6" width="2.7" height="1.1" fill="#f4efe8"/><rect x="170.4" y="263.1" width="2.1" height="1.4" fill="#5e6a70"/><rect x="134.3" y="258.6" width="1.6" height="1.1" fill="#e9e2d8"/><rect x="189.7" y="263.5" width="2.6" height="1.0" fill="#a98b74"/><rect x="119.2" y="263.2" width="1.3" height="1.3" fill="#e9e2d8"/><rect x="132.8" y="262.9" width="1.6" height="1.3" fill="#8a7868"/><rect x="183.3" y="262.3" width="2.5" height="1.0" fill="#8a7868"/><rect x="81.5" y="263.6" width="1.4" height="1.0" fill="#f4efe8"/><rect x="192.0" y="266.2" width="1.6" height="1.5" fill="#5e6a70"/><rect x="250.2" y="260.2" width="2.1" height="1.1" fill="#5e6a70"/><rect x="193.3" y="263.6" width="2.4" height="1.1" fill="#8a7868"/><rect x="238.9" y="260.3" width="1.2" height="1.0" fill="#8a7868"/><rect x="107.2" y="265.9" width="1.2" height="1.3" fill="#e9e2d8"/><rect x="245.5" y="260.9" width="2.0" height="1.3" fill="#cdb9a4"/><rect x="193.6" y="263.4" width="1.5" height="1.1" fill="#8a7868"/><rect x="132.1" y="258.6" width="2.5" height="1.4" fill="#f4efe8"/><rect x="80.1" y="264.3" width="2.7" height="1.0" fill="#f4efe8"/><rect x="195.0" y="262.0" width="1.6" height="1.4" fill="#e9e2d8"/><path d="M216,238.2 C226,237.6 238,239.6 248,241.4 L256,240.6 V247.4 L249,246.4 C240,243.4 230,241 216,239.6 Z" fill="#8b979d"/><path d="M248,241 L256,239.6 V248 L250,247 Z" fill="#c7c6c2"/><rect x="131" y="249.6" width="2" height="1.2" fill="#eef3f5"/><rect x="153" y="249.4" width="2" height="1.2" fill="#eef3f5"/><rect x="183" y="252" width="2" height="1.2" fill="#eef3f5"/><rect x="213" y="249.4" width="2" height="1.2" fill="#eef3f5"/><rect x="228" y="243" width="2" height="1.2" fill="#eef3f5"/></g></g>
<g transform="translate(-430.5,0)"><path d="M1133.7,181.9 L1173.3,168.2 V299.6 L1133.7,283.7 Z" fill="url(#gTowerSide)"/><path d="M1173.3,168.2 L1214,169.8 V297.4 L1173.3,299.6 Z" fill="#19191b"/><path d="M1173.3,168.2 L1175.6,168.3 V299.4 L1173.3,299.6 Z" fill="#0d0d0e"/><path d="M1136.4,196.4 L1149,192.4 V247.4 L1136.4,245 Z" fill="url(#pVent)"/><path d="M1176.8,177 L1189.2,177.4 V293.6 L1176.8,294.4 Z" fill="#232325"/><path d="M1178.4,181 L1187.6,181.2 V246 L1178.4,246 Z" fill="#1c1c1e"/><path d="M1191,176 L1212,176.8 V292 L1191,293 Z" fill="url(#pMesh)" opacity="0.55"/><path d="M1191,214 L1212,196 V176.8 L1191,176 Z" fill="#2a2a2d" opacity="0.5"/><circle cx="1203.3" cy="258.4" r="5" fill="#d9d9dd"/><path d="M1201.2,261.4 L1203,255.6 M1202,258.6 L1203.4,258.6 L1203,260.6 M1204.2,262 L1205.6,257.6 H1207 L1206.4,260" stroke="#222" stroke-width="0.8" fill="none"/><circle cx="1183.2" cy="253" r="1" fill="#9a9a9e"/><circle cx="1183.2" cy="258" r="1" fill="#8a8a8e"/><rect x="1182.5" y="262" width="1.4" height="9" fill="#0a0a0b"/><rect x="1182.5" y="275" width="1.4" height="4" fill="#0a0a0b"/><rect x="1182.5" y="283" width="1.4" height="4" fill="#0a0a0b"/></g>
<g transform="translate(0,0)"><path d="M1133.7,181.9 L1173.3,168.2 V299.6 L1133.7,283.7 Z" fill="url(#gTowerSide)"/><path d="M1173.3,168.2 L1214,169.8 V297.4 L1173.3,299.6 Z" fill="#19191b"/><path d="M1173.3,168.2 L1175.6,168.3 V299.4 L1173.3,299.6 Z" fill="#0d0d0e"/><path d="M1136.4,196.4 L1149,192.4 V247.4 L1136.4,245 Z" fill="url(#pVent)"/><path d="M1176.8,177 L1189.2,177.4 V293.6 L1176.8,294.4 Z" fill="#232325"/><path d="M1178.4,181 L1187.6,181.2 V246 L1178.4,246 Z" fill="#1c1c1e"/><path d="M1191,176 L1212,176.8 V292 L1191,293 Z" fill="url(#pMesh)" opacity="0.55"/><path d="M1191,214 L1212,196 V176.8 L1191,176 Z" fill="#2a2a2d" opacity="0.5"/><circle cx="1203.3" cy="258.4" r="5" fill="#d9d9dd"/><path d="M1201.2,261.4 L1203,255.6 M1202,258.6 L1203.4,258.6 L1203,260.6 M1204.2,262 L1205.6,257.6 H1207 L1206.4,260" stroke="#222" stroke-width="0.8" fill="none"/><circle cx="1183.2" cy="253" r="1" fill="#9a9a9e"/><circle cx="1183.2" cy="258" r="1" fill="#8a8a8e"/><rect x="1182.5" y="262" width="1.4" height="9" fill="#0a0a0b"/><rect x="1182.5" y="275" width="1.4" height="4" fill="#0a0a0b"/><rect x="1182.5" y="283" width="1.4" height="4" fill="#0a0a0b"/></g>
<rect x="63" y="1117.4" width="93" height="11.599999999999909" rx="3" fill="#1c1d20"/><rect x="1343" y="1117.4" width="93" height="11.599999999999909" rx="3" fill="#1c1d20"/><path d="M40.6,1096.2 H1457.8 V1113.4 Q1457.4,1120.4 1450,1120.4 H48 Q41,1120.4 40.6,1113.4 Z" fill="url(#gBand)"/><path d="M34,859.6 Q34,848.6 46,848.6 H1453 Q1465,848.6 1465,859.6 V1102.2 H34 Z" fill="url(#gBody)"/><path d="M34,859.6 Q34,848.6 46,848.6 H1453 Q1465,848.6 1465,859.6 V1102.2 H34 Z" fill="url(#gBodyV)"/>
<rect x="64" y="837.8" width="128.5" height="10.200000000000045" rx="3" fill="#1c1d20"/><rect x="1306.5" y="837.8" width="129.0" height="10.200000000000045" rx="3" fill="#1c1d20"/><path d="M40.6,815.6 H1457.8 V833.8 Q1457.4,840.8 1450,840.8 H48 Q41,840.8 40.6,833.8 Z" fill="url(#gBand)"/><path d="M34,580 Q34,569 46,569 H1453 Q1465,569 1465,580 V821.6 H34 Z" fill="url(#gBody)"/><path d="M34,580 Q34,569 46,569 H1453 Q1465,569 1465,580 V821.6 H34 Z" fill="url(#gBodyV)"/>
<g stroke="#101018" stroke-width="2" fill="none"><path d="M164.6,677.6 L174.4,687.4 L164.6,697.2 L154.8,687.4 Z"/><path d="M224.6,677.6 L234.4,687.4 L224.6,697.2 L214.8,687.4 Z"/><path d="M174.4,687.4 H186.4 M205,687.4 H214.8"/><path d="M160.6,687.4 H168.6 M220.6,687.4 H228.6 M224.6,683.4 V691.4"/><path d="M202.2,680.6 A9.6,9.6 0 1 0 202.2,694.2" stroke-width="2.6"/></g><circle cx="195.6" cy="687.4" r="4.8" fill="#101018"/>
<circle cx="195.6" cy="745" r="30.6" fill="url(#gDC)"/><circle cx="195.6" cy="745" r="27.4" fill="#2a2a2d"/><path d="M195.6,718.4 L218.6,731.7 V758.3 L195.6,771.6 L172.6,758.3 V731.7 Z" fill="#1b1b1d" stroke="#c9cbd3" stroke-width="1.3" stroke-dasharray="17 9.6" stroke-dashoffset="-4"/><circle cx="195.6" cy="745" r="21" fill="#19191b"/><circle cx="195.6" cy="745" r="7.2" fill="#e9e9ec"/><g fill="#ffffff"><circle cx="195.6" cy="740.8" r="2"/><circle cx="199.4" cy="743" r="2"/><circle cx="199.4" cy="747.2" r="2"/><circle cx="195.6" cy="749.4" r="2"/><circle cx="191.8" cy="747.2" r="2"/><circle cx="191.8" cy="743" r="2"/></g><circle cx="195.6" cy="745" r="1.8" fill="#bdbdc2"/>
<text x="153" y="810.8" font-size="21.5" fill="#15151d" font-weight="normal" text-anchor="start" textLength="82" lengthAdjust="spacingAndGlyphs" >DC 12V</text>
<path d="M324.0,605.3999999999999 H455.4 Q459.4,605.3999999999999 459.4,611.0999999999999 V636.7799999999999 Q459.4,639.7799999999999 456.4,642.1199999999999 L441.55,652.6999999999999 Q438.55,655.1999999999999 433.7,655.1999999999999 H345.7 Q340.84999999999997,655.1999999999999 337.84999999999997,652.6999999999999 L323.0,642.1199999999999 Q320.0,639.7799999999999 320.0,636.7799999999999 V611.0999999999999 Q320.0,605.3999999999999 324.0,605.3999999999999 Z" fill="#dcdfeb"/><path d="M324.2,605.0 H453.8 Q457.8,605.0 457.8,609.8 V635.12 Q457.8,638.12 454.8,640.28 L440.4,650.4999999999999 Q437.4,652.9999999999999 433,652.9999999999999 H345 Q340.6,652.9999999999999 337.6,650.4999999999999 L323.2,640.28 Q320.2,638.12 320.2,635.12 V609.8 Q320.2,605.0 324.2,605.0 Z" fill="#5b5f70"/><path d="M325,605.8 H453 Q457,605.8 457,609.8 V634.8 Q457,637.8 454,639.8 L440.0,649.6999999999999 Q437.0,652.1999999999999 433,652.1999999999999 H345 Q341.0,652.1999999999999 338.0,649.6999999999999 L324,639.8 Q321,637.8 321,634.8 V609.8 Q321,605.8 325,605.8 Z" fill="url(#gPort)"/><path d="M329,611.8 H449 V635.8 L435,644.1999999999999 H343 L329,635.8 Z" fill="#111113"/><rect x="341.5" y="626.4" width="96" height="7.4" rx="3.5" fill="#8a8c84"/><rect x="342.5" y="627.4" width="94" height="5.0" rx="2.6" fill="url(#pPins)"/><rect x="365" y="646.1999999999999" width="9" height="3.2" fill="#7d808c"/><rect x="408" y="646.1999999999999" width="11" height="3.2" fill="#9a9da8"/>
<path d="M324.0,735.3999999999999 H455.4 Q459.4,735.3999999999999 459.4,741.0999999999999 V766.7799999999999 Q459.4,769.7799999999999 456.4,772.1199999999999 L441.55,782.6999999999999 Q438.55,785.1999999999999 433.7,785.1999999999999 H345.7 Q340.84999999999997,785.1999999999999 337.84999999999997,782.6999999999999 L323.0,772.1199999999999 Q320.0,769.7799999999999 320.0,766.7799999999999 V741.0999999999999 Q320.0,735.3999999999999 324.0,735.3999999999999 Z" fill="#dcdfeb"/><path d="M324.2,735.0 H453.8 Q457.8,735.0 457.8,739.8 V765.12 Q457.8,768.12 454.8,770.28 L440.4,780.4999999999999 Q437.4,782.9999999999999 433,782.9999999999999 H345 Q340.6,782.9999999999999 337.6,780.4999999999999 L323.2,770.28 Q320.2,768.12 320.2,765.12 V739.8 Q320.2,735.0 324.2,735.0 Z" fill="#5b5f70"/><path d="M325,735.8 H453 Q457,735.8 457,739.8 V764.8 Q457,767.8 454,769.8 L440.0,779.6999999999999 Q437.0,782.1999999999999 433,782.1999999999999 H345 Q341.0,782.1999999999999 338.0,779.6999999999999 L324,769.8 Q321,767.8 321,764.8 V739.8 Q321,735.8 325,735.8 Z" fill="url(#gPort)"/><path d="M329,741.8 H449 V765.8 L435,774.1999999999999 H343 L329,765.8 Z" fill="#111113"/><rect x="341.5" y="756.4" width="96" height="7.4" rx="3.5" fill="#8a8c84"/><rect x="342.5" y="757.4" width="94" height="5.0" rx="2.6" fill="url(#pPins)"/><rect x="365" y="776.1999999999999" width="9" height="3.2" fill="#7d808c"/><rect x="408" y="776.1999999999999" width="11" height="3.2" fill="#9a9da8"/>
<text x="305.8" y="680.8" font-size="21" fill="#15151d" font-weight="normal" text-anchor="start" textLength="57.4" lengthAdjust="spacingAndGlyphs" >HDMI</text>
<circle cx="383.4" cy="672.1999999999999" r="9.9" fill="#0c0c10"/><text x="383.4" y="677.4" font-size="14.6" fill="#e4e5ee" stroke="#e4e5ee" stroke-width="0.35" text-anchor="middle">A</text>
<text x="402.4" y="680.8" font-size="21" fill="#15151d" font-weight="normal" text-anchor="start" textLength="68.4" lengthAdjust="spacingAndGlyphs" >Output</text>
<text x="305.8" y="811.6" font-size="21" fill="#15151d" font-weight="normal" text-anchor="start" textLength="57.4" lengthAdjust="spacingAndGlyphs" >HDMI</text>
<circle cx="383.4" cy="803.0" r="9.9" fill="#0c0c10"/><text x="383.4" y="808.2" font-size="14.6" fill="#e4e5ee" stroke="#e4e5ee" stroke-width="0.35" text-anchor="middle">B</text>
<text x="402.4" y="811.6" font-size="21" fill="#15151d" font-weight="normal" text-anchor="start" textLength="68.4" lengthAdjust="spacingAndGlyphs" >Output</text>
<g fill="none" stroke="#0c0c12" stroke-width="2.3"><path d="M562.4,804.6 H541 Q532,804.6 532,795.6 V599.4 Q532,590.4 541,590.4 H908 Q917,590.4 917,599.4 V795.6 Q917,804.6 908,804.6 H890"/><path d="M659.4,804.6 H764.6"/></g>
<rect x="552.8" y="604.6" width="132.5" height="37.8" rx="3.5" fill="#050507"/>
<text x="561" y="632" font-size="24.5" fill="#e6e6ea" font-weight="normal" text-anchor="start" textLength="115.4" lengthAdjust="spacingAndGlyphs" >PC Input 2</text>
<path d="M765.0,605.5999999999999 H896.4000000000001 Q900.4000000000001,605.5999999999999 900.4000000000001,611.3 V636.9799999999999 Q900.4000000000001,639.9799999999999 897.4000000000001,642.3199999999999 L882.5500000000001,652.9 Q879.5500000000001,655.4 874.7,655.4 H786.7 Q781.85,655.4 778.85,652.9 L764.0,642.3199999999999 Q761.0,639.9799999999999 761.0,636.9799999999999 V611.3 Q761.0,605.5999999999999 765.0,605.5999999999999 Z" fill="#dcdfeb"/><path d="M765.2,605.2 H894.8 Q898.8,605.2 898.8,610 V635.32 Q898.8,638.32 895.8,640.48 L881.4,650.6999999999999 Q878.4,653.1999999999999 874,653.1999999999999 H786 Q781.6,653.1999999999999 778.6,650.6999999999999 L764.2,640.48 Q761.2,638.32 761.2,635.32 V610 Q761.2,605.2 765.2,605.2 Z" fill="#5b5f70"/><path d="M766,606 H894 Q898,606 898,610 V635.0 Q898,638.0 895,640.0 L881.0,649.9 Q878.0,652.4 874,652.4 H786 Q782.0,652.4 779.0,649.9 L765,640.0 Q762,638.0 762,635.0 V610 Q762,606 766,606 Z" fill="url(#gPort)"/><path d="M770,612 H890 V636 L876,644.4 H784 L770,636 Z" fill="#111113"/><rect x="782.5" y="626.6" width="96" height="7.4" rx="3.5" fill="#8a8c84"/><rect x="783.5" y="627.6" width="94" height="5.0" rx="2.6" fill="url(#pPins)"/><rect x="806" y="646.4" width="9" height="3.2" fill="#7d808c"/><rect x="849" y="646.4" width="11" height="3.2" fill="#9a9da8"/>
<path d="M765.0,736.5999999999999 H896.4000000000001 Q900.4000000000001,736.5999999999999 900.4000000000001,742.3 V767.9799999999999 Q900.4000000000001,770.9799999999999 897.4000000000001,773.3199999999999 L882.5500000000001,783.9 Q879.5500000000001,786.4 874.7,786.4 H786.7 Q781.85,786.4 778.85,783.9 L764.0,773.3199999999999 Q761.0,770.9799999999999 761.0,767.9799999999999 V742.3 Q761.0,736.5999999999999 765.0,736.5999999999999 Z" fill="#dcdfeb"/><path d="M765.2,736.2 H894.8 Q898.8,736.2 898.8,741 V766.32 Q898.8,769.32 895.8,771.48 L881.4,781.6999999999999 Q878.4,784.1999999999999 874,784.1999999999999 H786 Q781.6,784.1999999999999 778.6,781.6999999999999 L764.2,771.48 Q761.2,769.32 761.2,766.32 V741 Q761.2,736.2 765.2,736.2 Z" fill="#5b5f70"/><path d="M766,737 H894 Q898,737 898,741 V766.0 Q898,769.0 895,771.0 L881.0,780.9 Q878.0,783.4 874,783.4 H786 Q782.0,783.4 779.0,780.9 L765,771.0 Q762,769.0 762,766.0 V741 Q762,737 766,737 Z" fill="url(#gPort)"/><path d="M770,743 H890 V767 L876,775.4 H784 L770,767 Z" fill="#111113"/><rect x="782.5" y="757.6" width="96" height="7.4" rx="3.5" fill="#8a8c84"/><rect x="783.5" y="758.6" width="94" height="5.0" rx="2.6" fill="url(#pPins)"/><rect x="806" y="777.4" width="9" height="3.2" fill="#7d808c"/><rect x="849" y="777.4" width="11" height="3.2" fill="#9a9da8"/>
<rect x="553.3" y="735" width="116" height="51.4" rx="4" fill="url(#gRim)"/><rect x="555.0999999999999" y="736.6" width="111.6" height="47.199999999999996" rx="2.6" fill="#1a1a1c"/><rect x="558.5999999999999" y="740.1" width="104.6" height="38.199999999999996" rx="1.5" fill="#0e0e10"/><rect x="564.5999999999999" y="744.6" width="93.6" height="15.4" rx="1.5" fill="url(#gBlue)"/><rect x="566.0999999999999" y="745.6" width="90.6" height="3.4" fill="#74baf4" opacity="0.8"/><rect x="562.0999999999999" y="760.0" width="98.6" height="8.6" fill="#1e1d1a"/><path d="M578.2839999999999,764.2 L581.8839999999999,760.4 L585.4839999999999,764.2 Z" fill="#9c8036"/><path d="M599.4879999999999,764.2 L603.088,760.4 L606.688,764.2 Z" fill="#9c8036"/><path d="M618.4599999999999,764.2 L622.06,760.4 L625.66,764.2 Z" fill="#9c8036"/><path d="M639.6639999999999,764.2 L643.2639999999999,760.4 L646.8639999999999,764.2 Z" fill="#9c8036"/><rect x="573.0999999999999" y="776.2" width="19" height="4.6" fill="#5d5f68"/><rect x="631.0999999999999" y="776.2" width="15" height="4.6" fill="#c4c6cf"/>
<text x="783.8" y="681" font-size="21" fill="#15151d" font-weight="normal" text-anchor="start" textLength="57.4" lengthAdjust="spacingAndGlyphs" >HDMI</text>
<circle cx="861.2" cy="672.4" r="9.9" fill="#0c0c10"/><text x="861.2" y="677.6" font-size="14.6" fill="#e4e5ee" stroke="#e4e5ee" stroke-width="0.35" text-anchor="middle">A</text>
<text x="783.8" y="811.8" font-size="21" fill="#15151d" font-weight="normal" text-anchor="start" textLength="57.4" lengthAdjust="spacingAndGlyphs" >HDMI</text>
<circle cx="861.2" cy="803.1999999999999" r="9.9" fill="#0c0c10"/><text x="861.2" y="808.4" font-size="14.6" fill="#e4e5ee" stroke="#e4e5ee" stroke-width="0.35" text-anchor="middle">B</text>
<text x="587" y="811.8" font-size="21" fill="#15151d" font-weight="normal" text-anchor="start" textLength="46.4" lengthAdjust="spacingAndGlyphs" >Data</text>
<g fill="none" stroke="#0c0c12" stroke-width="2.3"><path d="M988.8,804.6 H967.4 Q958.4,804.6 958.4,795.6 V599.4 Q958.4,590.4 967.4,590.4 H1334.4 Q1343.4,590.4 1343.4,599.4 V795.6 Q1343.4,804.6 1334.4,804.6 H1316.4"/><path d="M1085.8,804.6 H1191.0"/></g>
<rect x="979.1999999999999" y="604.6" width="132.5" height="37.8" rx="3.5" fill="#050507"/>
<text x="987.4" y="632" font-size="24.5" fill="#e6e6ea" font-weight="normal" text-anchor="start" textLength="115.4" lengthAdjust="spacingAndGlyphs" >PC Input 1</text>
<path d="M1191.4,605.5999999999999 H1322.8000000000002 Q1326.8000000000002,605.5999999999999 1326.8000000000002,611.3 V636.9799999999999 Q1326.8000000000002,639.9799999999999 1323.8000000000002,642.3199999999999 L1308.95,652.9 Q1305.95,655.4 1301.1000000000001,655.4 H1213.1000000000001 Q1208.2500000000002,655.4 1205.2500000000002,652.9 L1190.4,642.3199999999999 Q1187.4,639.9799999999999 1187.4,636.9799999999999 V611.3 Q1187.4,605.5999999999999 1191.4,605.5999999999999 Z" fill="#dcdfeb"/><path d="M1191.6000000000001,605.2 H1321.2 Q1325.2,605.2 1325.2,610 V635.32 Q1325.2,638.32 1322.2,640.48 L1307.8000000000002,650.6999999999999 Q1304.8000000000002,653.1999999999999 1300.4,653.1999999999999 H1212.4 Q1208.0,653.1999999999999 1205.0,650.6999999999999 L1190.6000000000001,640.48 Q1187.6000000000001,638.32 1187.6000000000001,635.32 V610 Q1187.6000000000001,605.2 1191.6000000000001,605.2 Z" fill="#5b5f70"/><path d="M1192.4,606 H1320.4 Q1324.4,606 1324.4,610 V635.0 Q1324.4,638.0 1321.4,640.0 L1307.4,649.9 Q1304.4,652.4 1300.4,652.4 H1212.4 Q1208.4,652.4 1205.4,649.9 L1191.4,640.0 Q1188.4,638.0 1188.4,635.0 V610 Q1188.4,606 1192.4,606 Z" fill="url(#gPort)"/><path d="M1196.4,612 H1316.4 V636 L1302.4,644.4 H1210.4 L1196.4,636 Z" fill="#111113"/><rect x="1208.9" y="626.6" width="96" height="7.4" rx="3.5" fill="#8a8c84"/><rect x="1209.9" y="627.6" width="94" height="5.0" rx="2.6" fill="url(#pPins)"/><rect x="1232.4" y="646.4" width="9" height="3.2" fill="#7d808c"/><rect x="1275.4" y="646.4" width="11" height="3.2" fill="#9a9da8"/>
<path d="M1191.4,736.5999999999999 H1322.8000000000002 Q1326.8000000000002,736.5999999999999 1326.8000000000002,742.3 V767.9799999999999 Q1326.8000000000002,770.9799999999999 1323.8000000000002,773.3199999999999 L1308.95,783.9 Q1305.95,786.4 1301.1000000000001,786.4 H1213.1000000000001 Q1208.2500000000002,786.4 1205.2500000000002,783.9 L1190.4,773.3199999999999 Q1187.4,770.9799999999999 1187.4,767.9799999999999 V742.3 Q1187.4,736.5999999999999 1191.4,736.5999999999999 Z" fill="#dcdfeb"/><path d="M1191.6000000000001,736.2 H1321.2 Q1325.2,736.2 1325.2,741 V766.32 Q1325.2,769.32 1322.2,771.48 L1307.8000000000002,781.6999999999999 Q1304.8000000000002,784.1999999999999 1300.4,784.1999999999999 H1212.4 Q1208.0,784.1999999999999 1205.0,781.6999999999999 L1190.6000000000001,771.48 Q1187.6000000000001,769.32 1187.6000000000001,766.32 V741 Q1187.6000000000001,736.2 1191.6000000000001,736.2 Z" fill="#5b5f70"/><path d="M1192.4,737 H1320.4 Q1324.4,737 1324.4,741 V766.0 Q1324.4,769.0 1321.4,771.0 L1307.4,780.9 Q1304.4,783.4 1300.4,783.4 H1212.4 Q1208.4,783.4 1205.4,780.9 L1191.4,771.0 Q1188.4,769.0 1188.4,766.0 V741 Q1188.4,737 1192.4,737 Z" fill="url(#gPort)"/><path d="M1196.4,743 H1316.4 V767 L1302.4,775.4 H1210.4 L1196.4,767 Z" fill="#111113"/><rect x="1208.9" y="757.6" width="96" height="7.4" rx="3.5" fill="#8a8c84"/><rect x="1209.9" y="758.6" width="94" height="5.0" rx="2.6" fill="url(#pPins)"/><rect x="1232.4" y="777.4" width="9" height="3.2" fill="#7d808c"/><rect x="1275.4" y="777.4" width="11" height="3.2" fill="#9a9da8"/>
<rect x="979.6999999999999" y="735" width="116" height="51.4" rx="4" fill="url(#gRim)"/><rect x="981.4999999999999" y="736.6" width="111.6" height="47.199999999999996" rx="2.6" fill="#1a1a1c"/><rect x="984.9999999999999" y="740.1" width="104.6" height="38.199999999999996" rx="1.5" fill="#0e0e10"/><rect x="990.9999999999999" y="744.6" width="93.6" height="15.4" rx="1.5" fill="url(#gBlue)"/><rect x="992.4999999999999" y="745.6" width="90.6" height="3.4" fill="#74baf4" opacity="0.8"/><rect x="988.4999999999999" y="760.0" width="98.6" height="8.6" fill="#1e1d1a"/><path d="M1004.6839999999999,764.2 L1008.2839999999999,760.4 L1011.8839999999999,764.2 Z" fill="#9c8036"/><path d="M1025.888,764.2 L1029.4879999999998,760.4 L1033.0879999999997,764.2 Z" fill="#9c8036"/><path d="M1044.86,764.2 L1048.4599999999998,760.4 L1052.0599999999997,764.2 Z" fill="#9c8036"/><path d="M1066.064,764.2 L1069.664,760.4 L1073.264,764.2 Z" fill="#9c8036"/><rect x="999.4999999999999" y="776.2" width="19" height="4.6" fill="#5d5f68"/><rect x="1057.5" y="776.2" width="15" height="4.6" fill="#c4c6cf"/>
<text x="1210.2" y="681" font-size="21" fill="#15151d" font-weight="normal" text-anchor="start" textLength="57.4" lengthAdjust="spacingAndGlyphs" >HDMI</text>
<circle cx="1287.6" cy="672.4" r="9.9" fill="#0c0c10"/><text x="1287.6" y="677.6" font-size="14.6" fill="#e4e5ee" stroke="#e4e5ee" stroke-width="0.35" text-anchor="middle">A</text>
<text x="1210.2" y="811.8" font-size="21" fill="#15151d" font-weight="normal" text-anchor="start" textLength="57.4" lengthAdjust="spacingAndGlyphs" >HDMI</text>
<circle cx="1287.6" cy="803.1999999999999" r="9.9" fill="#0c0c10"/><text x="1287.6" y="808.4" font-size="14.6" fill="#e4e5ee" stroke="#e4e5ee" stroke-width="0.35" text-anchor="middle">B</text>
<text x="1013.4" y="811.8" font-size="21" fill="#15151d" font-weight="normal" text-anchor="start" textLength="46.4" lengthAdjust="spacingAndGlyphs" >Data</text>
<text x="227.6" y="989.6" font-size="21.5" fill="#15151d" font-weight="normal" text-anchor="start" textLength="108.6" lengthAdjust="spacingAndGlyphs" >CONTROL</text>
<text x="454.4" y="988.2" font-size="22" fill="#15151d" font-weight="normal" text-anchor="start" textLength="68.6" lengthAdjust="spacingAndGlyphs" >5Gbps</text>
<text x="681.4" y="988.2" font-size="22" fill="#15151d" font-weight="normal" text-anchor="start" textLength="68.6" lengthAdjust="spacingAndGlyphs" >5Gbps</text>
<text x="928.4" y="988.2" font-size="22" fill="#15151d" font-weight="normal" text-anchor="start" textLength="68.6" lengthAdjust="spacingAndGlyphs" >5Gbps</text>
<text x="1175.2" y="988.2" font-size="22" fill="#15151d" font-weight="normal" text-anchor="start" textLength="68.6" lengthAdjust="spacingAndGlyphs" >5Gbps</text>
<path d="M249.4,1013.6 Q247.4,1013.6 247.4,1015.6 V1029.4 L253,1033.6 V1046 Q253,1048.6 256,1048.6 H310 Q313,1048.6 313,1046 V1033.6 L317.8,1029.4 V1015.6 Q317.8,1013.6 315.8,1013.6 Z" fill="#d9dbe7" stroke="#d9dbe7" stroke-width="3.2" stroke-linejoin="round" transform="translate(0,0.9)"/><path d="M249.4,1013.6 Q247.4,1013.6 247.4,1015.6 V1029.4 L253,1033.6 V1046 Q253,1048.6 256,1048.6 H310 Q313,1048.6 313,1046 V1033.6 L317.8,1029.4 V1015.6 Q317.8,1013.6 315.8,1013.6 Z" fill="#6b6e80" stroke="#6b6e80" stroke-width="1.6" stroke-linejoin="round" transform="translate(0,-0.6)"/><path d="M249.4,1013.6 Q247.4,1013.6 247.4,1015.6 V1029.4 L253,1033.6 V1046 Q253,1048.6 256,1048.6 H310 Q313,1048.6 313,1046 V1033.6 L317.8,1029.4 V1015.6 Q317.8,1013.6 315.8,1013.6 Z" fill="#161618"/><rect x="252" y="1017" width="62" height="8" fill="#0c0c0d"/><rect x="262.6" y="1027" width="42" height="14" rx="2" fill="#6e6e66"/><g fill="#d9dac8"><rect x="266.2" y="1030.4" width="3.6" height="6.6"/><rect x="273.8" y="1030.4" width="3.6" height="6.6"/><rect x="281.4" y="1030.4" width="3.6" height="6.6"/><rect x="289" y="1030.4" width="3.6" height="6.6"/><rect x="296.6" y="1030.4" width="3.6" height="6.6"/></g>
<rect x="447.4" y="1024" width="83.6" height="30.8" rx="15.4" fill="url(#gRim)"/><rect x="450.2" y="1026.6" width="78" height="25.4" rx="12.7" fill="#0f0f11"/><rect x="461.6" y="1036.8" width="56.6" height="3" rx="1.5" fill="#e9e9ec"/><g fill="#7a6a3a"><rect x="468" y="1043" width="1.6" height="1.6"/><rect x="475" y="1043" width="1.6" height="1.6"/><rect x="482" y="1043" width="1.6" height="1.6"/><rect x="497" y="1043" width="1.6" height="1.6"/><rect x="504" y="1043" width="1.6" height="1.6"/><rect x="511" y="1043" width="1.6" height="1.6"/></g>
<rect x="656.5" y="1015.3" width="120" height="52.6" rx="4" fill="url(#gRim)"/><rect x="658.3" y="1016.9" width="115.6" height="48.4" rx="2.6" fill="#1a1a1c"/><rect x="661.8" y="1020.4" width="108.6" height="39.4" rx="1.5" fill="#0e0e10"/><rect x="667.8" y="1024.9" width="97.6" height="15.4" rx="1.5" fill="url(#gBlue)"/><rect x="669.3" y="1025.9" width="94.6" height="3.4" fill="#74baf4" opacity="0.8"/><rect x="665.3" y="1040.3" width="102.6" height="8.6" fill="#1e1d1a"/><path d="M682.444,1044.5 L686.044,1040.7 L689.644,1044.5 Z" fill="#9c8036"/><path d="M704.4079999999999,1044.5 L708.0079999999999,1040.7 L711.608,1044.5 Z" fill="#9c8036"/><path d="M724.06,1044.5 L727.66,1040.7 L731.26,1044.5 Z" fill="#9c8036"/><path d="M746.0239999999999,1044.5 L749.6239999999999,1040.7 L753.2239999999999,1044.5 Z" fill="#9c8036"/><rect x="676.3" y="1057.7" width="19" height="4.6" fill="#5d5f68"/><rect x="734.3" y="1057.7" width="15" height="4.6" fill="#c4c6cf"/>
<rect x="903.3" y="1015.3" width="120" height="52.6" rx="4" fill="url(#gRim)"/><rect x="905.0999999999999" y="1016.9" width="115.6" height="48.4" rx="2.6" fill="#1a1a1c"/><rect x="908.5999999999999" y="1020.4" width="108.6" height="39.4" rx="1.5" fill="#0e0e10"/><rect x="914.5999999999999" y="1024.9" width="97.6" height="15.4" rx="1.5" fill="url(#gBlue)"/><rect x="916.0999999999999" y="1025.9" width="94.6" height="3.4" fill="#74baf4" opacity="0.8"/><rect x="912.0999999999999" y="1040.3" width="102.6" height="8.6" fill="#1e1d1a"/><path d="M929.2439999999999,1044.5 L932.8439999999999,1040.7 L936.444,1044.5 Z" fill="#9c8036"/><path d="M951.2079999999999,1044.5 L954.8079999999999,1040.7 L958.4079999999999,1044.5 Z" fill="#9c8036"/><path d="M970.8599999999999,1044.5 L974.4599999999999,1040.7 L978.06,1044.5 Z" fill="#9c8036"/><path d="M992.8239999999998,1044.5 L996.4239999999999,1040.7 L1000.0239999999999,1044.5 Z" fill="#9c8036"/><rect x="923.0999999999999" y="1057.7" width="19" height="4.6" fill="#5d5f68"/><rect x="981.0999999999999" y="1057.7" width="15" height="4.6" fill="#c4c6cf"/>
<rect x="1150.2" y="1015.3" width="120" height="52.6" rx="4" fill="url(#gRim)"/><rect x="1152.0" y="1016.9" width="115.6" height="48.4" rx="2.6" fill="#1a1a1c"/><rect x="1155.5" y="1020.4" width="108.6" height="39.4" rx="1.5" fill="#0e0e10"/><rect x="1161.5" y="1024.9" width="97.6" height="15.4" rx="1.5" fill="url(#gBlue)"/><rect x="1163.0" y="1025.9" width="94.6" height="3.4" fill="#74baf4" opacity="0.8"/><rect x="1159.0" y="1040.3" width="102.6" height="8.6" fill="#1e1d1a"/><path d="M1176.144,1044.5 L1179.744,1040.7 L1183.3439999999998,1044.5 Z" fill="#9c8036"/><path d="M1198.1080000000002,1044.5 L1201.708,1040.7 L1205.308,1044.5 Z" fill="#9c8036"/><path d="M1217.76,1044.5 L1221.36,1040.7 L1224.9599999999998,1044.5 Z" fill="#9c8036"/><path d="M1239.7240000000002,1044.5 L1243.324,1040.7 L1246.924,1044.5 Z" fill="#9c8036"/><rect x="1170.0" y="1057.7" width="19" height="4.6" fill="#5d5f68"/><rect x="1228.0" y="1057.7" width="15" height="4.6" fill="#c4c6cf"/>
<rect x="51.4" y="1241" width="283.8" height="219.5999999999999" rx="18" fill="#ffffff"/>
<rect x="360" y="1241" width="1092.6" height="219.5999999999999" rx="18" fill="#ffffff"/>
<path d="M206,346 V411.4 H364 V763" fill="none" stroke="#0b0b10" stroke-width="4.4" stroke-dasharray="4.8 3.55"/>
<path d="M440.4,346 V634" fill="none" stroke="#0b0b10" stroke-width="4.4" stroke-dasharray="4.8 3.55"/>
<path d="M598.4,346 V740" fill="none" stroke="#0b0b10" stroke-width="4.4" stroke-dasharray="4.8 3.55"/>
<path d="M812.4,346 V631" fill="none" stroke="#0b0b10" stroke-width="4.4" stroke-dasharray="4.8 3.55"/>
<path d="M869.4,346 V763" fill="none" stroke="#0b0b10" stroke-width="4.4" stroke-dasharray="4.8 3.55"/>
<path d="M1059.6,346 V741" fill="none" stroke="#0b0b10" stroke-width="4.4" stroke-dasharray="4.8 3.55"/>
<path d="M1219,346 V631" fill="none" stroke="#0b0b10" stroke-width="4.4" stroke-dasharray="4.8 3.55"/>
<path d="M1289,346 V763" fill="none" stroke="#0b0b10" stroke-width="4.4" stroke-dasharray="4.8 3.55"/>
<path d="M196,550 V731" fill="none" stroke="#0b0b10" stroke-width="4.4" stroke-dasharray="4.8 3.55"/>
<path d="M282.6,1060 V1230" fill="none" stroke="#0b0b10" stroke-width="4.4" stroke-dasharray="4.8 3.55"/>
<path d="M486.4,1092 V1156.6 H1211 V1092" fill="none" stroke="#0b0b10" stroke-width="4.4" stroke-dasharray="4.8 3.55"/>
<path d="M849.6,1158.6 V1230" fill="none" stroke="#0b0b10" stroke-width="4.4" stroke-dasharray="4.8 3.55"/>
<circle cx="206" cy="337.6" r="9.3" fill="url(#gDot)"/>
<circle cx="440.4" cy="337.6" r="9.3" fill="url(#gDot)"/>
<circle cx="598.4" cy="337.6" r="9.3" fill="url(#gDot)"/>
<circle cx="812.4" cy="337.6" r="9.3" fill="url(#gDot)"/>
<circle cx="869.4" cy="337.6" r="9.3" fill="url(#gDot)"/>
<circle cx="1059.6" cy="338" r="9.3" fill="url(#gDot)"/>
<circle cx="1219" cy="338" r="9.3" fill="url(#gDot)"/>
<circle cx="1289" cy="338" r="9.3" fill="url(#gDot)"/>
<circle cx="196.4" cy="541.2" r="9.3" fill="url(#gDot)"/>
<circle cx="282.4" cy="1050.8" r="9.3" fill="url(#gDot)"/>
<circle cx="486.4" cy="1083.2" r="9.3" fill="url(#gDot)"/>
<circle cx="1211" cy="1083.4" r="9.3" fill="url(#gDot)"/>
<circle cx="282.6" cy="1238" r="9.3" fill="url(#gDot)"/>
<circle cx="849.6" cy="1238" r="9.3" fill="url(#gDot)"/>
<path d="M47.2,428.2 Q50.6,423.4 54,428.2 L64.4,445.4 Q66.6,450.6 61,450.8 H40.2 Q34.6,450.6 36.8,445.4 Z" fill="#ee1c25"/><rect x="49" y="431.4" width="3.2" height="10.4" rx="1.4" fill="#fff"/><circle cx="50.6" cy="445.6" r="1.9" fill="#fff"/>
<text x="35.6" y="484.6" font-size="23" fill="#d6202a" font-weight="normal" text-anchor="start" textLength="313.6" lengthAdjust="spacingAndGlyphs" stroke="#d6202a" stroke-width="0.3">Power adapter included and</text>
<text x="35.6" y="512.4" font-size="23" fill="#d6202a" font-weight="normal" text-anchor="start" textLength="292.4" lengthAdjust="spacingAndGlyphs" stroke="#d6202a" stroke-width="0.3">must be connected for use</text>
<rect x="188.8" y="1336" width="8.2" height="74" fill="#1e1e20"/><rect x="187.6" y="1336" width="10.6" height="16" rx="1.5" fill="#232325"/><rect x="165" y="1268" width="55.8" height="69.6" rx="2.5" fill="#38383b"/><rect x="165" y="1268" width="55.8" height="2" fill="#4a4a4d"/><circle cx="193" cy="1289.4" r="10.8" fill="#2a2a2c"/><circle cx="193" cy="1289.4" r="9" fill="#3c3c3f"/><text x="192.6" y="1322.4" font-size="6.4" font-weight="bold" fill="#101012" text-anchor="middle" textLength="26" lengthAdjust="spacingAndGlyphs">MOKUON</text>
<text x="68.4" y="1444" font-size="28.6" fill="#0c0c0e" font-weight="normal" text-anchor="start" textLength="250.4" lengthAdjust="spacingAndGlyphs" stroke="#0c0c0e" stroke-width="0.45">Desktop Controller</text>
<path d="M387.6,1353.4 C387.6,1340 400,1327 420,1323 C440,1319.6 462,1326 480,1340 C492,1349.4 501.4,1360 500.8,1368.4 C500,1379 488,1388.4 470,1390.6 C452,1392 430,1383.4 410,1372.4 C396,1364.6 387.6,1361 387.6,1353.4 Z" fill="#1f1f21"/><path d="M389.4,1351.4 C391,1339.6 402,1328 421,1324.2 C440,1321 461,1327 479,1340.6 C490,1349 499.4,1359 499.4,1366.4 C492,1372 470,1371 446,1361 C424,1352 404,1347 389.4,1351.4 Z" fill="#3a3a3d"/><path d="M428,1327 C424,1332 424,1338 430,1344 C446,1358 470,1370 490,1374 C496,1371 499.6,1368 499.4,1366.4 C499,1359 490,1349 479,1340.6 C464,1329.4 445,1323.6 428,1327 Z" fill="#47474a"/><path d="M457,1336 C466,1341 477,1351 483,1361" stroke="#0a0a0b" stroke-width="6.4" stroke-linecap="round" fill="none"/><path d="M461,1340.4 C467,1344.6 474,1351 478.6,1357.6" stroke="#3f3f43" stroke-width="2.6" stroke-linecap="round" fill="none"/><path d="M428,1327 C424,1332 424,1338 430,1344 C446,1358 470,1370 490,1374" stroke="#111113" stroke-width="1.2" fill="none"/><path d="M441,1323.4 C447,1333 462,1347 496,1360" stroke="#151517" stroke-width="1" fill="none" opacity="0.8"/><path d="M389,1356 C396,1366 420,1380 446,1387 C466,1391.6 486,1386 497,1374" stroke="#0d0d0e" stroke-width="3" fill="none" opacity="0.6"/><path d="M398,1336 C408,1328 424,1324.4 440,1325" stroke="#5e5e62" stroke-width="1.6" fill="none" opacity="0.7"/>
<text x="401.4" y="1445.4" font-size="28.6" fill="#0c0c0e" font-weight="normal" text-anchor="start" textLength="84.2" lengthAdjust="spacingAndGlyphs" stroke="#0c0c0e" stroke-width="0.45">Mouse</text>
<path d="M598.6,1277 Q599,1274.2 602,1274.4 L676.4,1277.8 Q679.6,1278.2 679.2,1281.2 L674.6,1330 H593.6 Z" fill="#2c2c2f"/><path d="M606.6,1294 Q607,1292.2 609,1292.2 L663.4,1294.6 Q665.6,1294.8 665.4,1297 L661.8,1336 H603.4 Z" fill="#dddde0"/><path d="M559.4,1334 Q559.4,1330 563,1329 L573,1321.6 Q574,1320.4 577,1320.4 L594,1320.4 V1330 H675 L676,1322.4 L692,1324 Q696.8,1324.6 696.8,1329 V1389 Q696.8,1392.6 693,1393.4 L660,1397.8 Q655.4,1398 655,1394.4 L654,1388 H585 L574,1392.6 L563.4,1391.4 Q559.4,1390.8 559.4,1387 Z" fill="#29292c"/><path d="M560,1333.4 L573.4,1321.4 Q574.4,1320.4 577,1320.4 L594,1320.4 L593.6,1330 L674.6,1330 L676,1322.6 L692,1324 Q696,1324.6 696.6,1328 L696.6,1333 C680,1339.6 668,1343 650,1343 C620,1342.6 590,1339.6 560,1333.4 Z" fill="#3b3b3f"/><path d="M559.6,1337.4 C590,1343.6 620,1346.6 650,1347 C668,1347 680,1343.6 696.6,1337 V1340.6 C680,1347.4 668,1350.8 650,1350.8 C620,1350.4 590,1347.4 559.6,1341.2 Z" fill="#161618"/><path d="M571,1326.6 L578,1321 L590,1321 L590,1328.6 L584,1332 Z" fill="#141416"/><path d="M576,1324.6 L580,1322 H586.6 V1324.4 L582,1327 Z" fill="#d9d9dc"/><rect x="608.4" y="1359.8" width="19.6" height="5.4" rx="1.6" fill="#dadadd"/><rect x="610.2" y="1361.2" width="16" height="2.6" fill="#6e6e72"/><path d="M574,1392.6 L585,1377.4 H654 L655,1394.4 L654,1388 H585 Z" fill="#0c0c0d"/><path d="M585.6,1390.8 L598,1376.8 L653.6,1378.4 L649,1391 Z" fill="#f2f2f4"/><path d="M600,1380.2 L647,1381.8 M598,1383.4 L646,1385 M596,1386.6 L644,1388" stroke="#2e2e32" stroke-width="1.3" stroke-dasharray="5.4 1.4"/>
<text x="584.6" y="1445.4" font-size="28.6" fill="#0c0c0e" font-weight="normal" text-anchor="start" textLength="91.2" lengthAdjust="spacingAndGlyphs" stroke="#0c0c0e" stroke-width="0.45">Printer</text>
<path d="M793.6,1352.8 L818,1345.4 L826.4,1366.6 L802,1373.4 Z" fill="#c3c4ca"/><path d="M793.6,1352.8 L797,1351.8 L805.4,1372.4 L802,1373.4 Z" fill="#3d79c9"/><rect x="806" y="1352.6" width="4.6" height="3.6" fill="#28282b" transform="rotate(-17 808 1354)"/><rect x="810.6" y="1361.6" width="4.6" height="3.6" fill="#28282b" transform="rotate(-17 812 1363)"/><path d="M815.4,1338.8 L906,1311.2 Q908.8,1310.4 909.8,1313 L925.6,1343 Q926.6,1345.6 924,1346.4 L833,1375.6 Q830.6,1376.2 829.6,1374 Z" fill="#19191b"/><path d="M815.4,1338.8 L906,1311.2 L907.6,1314 L817,1341.8 Z" fill="#333336"/><path d="M876,1320.6 L892.6,1353.6" stroke="#050506" stroke-width="1.6"/><g transform="rotate(-17 850 1344)" fill="#e4e4e8"><rect x="828" y="1339" width="40" height="2.2" opacity="0.85"/><rect x="846" y="1344.4" width="22" height="3" opacity="0.9"/><rect x="853" y="1350" width="15" height="2" fill="#9ad08a" opacity="0.7"/></g>
<text x="812" y="1445.4" font-size="28.6" fill="#0c0c0e" font-weight="normal" text-anchor="start" textLength="98.8" lengthAdjust="spacingAndGlyphs" stroke="#0c0c0e" stroke-width="0.45">U-Disks</text>
<path d="M1077.4,1279.6 Q1079.4,1277 1082.4,1278.6 L1130.4,1305 Q1133.2,1306.8 1131.6,1309.6 L1079.6,1394.4 Q1077.6,1397.2 1074.6,1395.4 L1029,1364.8 Q1026.4,1362.8 1028.2,1360 Z" fill="url(#gHdd)"/><path d="M1077.4,1279.6 Q1079.4,1277 1082.4,1278.6 L1130.4,1305 Q1133.2,1306.8 1131.6,1309.6 L1127,1317 L1069.6,1292.4 Z" fill="#0f1013"/><path d="M1116,1311 L1129,1304.4 L1131.6,1309.6 L1127,1317 Z" fill="#6d8fbd" opacity="0.75"/><path d="M1131.6,1309.6 L1079.6,1394.4 Q1077.6,1397.2 1074.6,1395.4 L1072.6,1394 L1128.6,1304 Z" fill="#1f2024" opacity="0.9"/><path d="M1112,1322 L1104,1335" stroke="#9a9ca4" stroke-width="1"/>
<text x="1003.2" y="1445.4" font-size="28.6" fill="#0c0c0e" font-weight="normal" text-anchor="start" textLength="153.6" lengthAdjust="spacingAndGlyphs" stroke="#0c0c0e" stroke-width="0.45">Hard Drives</text>
<rect x="1221" y="1312" width="185.8" height="75" rx="3.4" fill="#2b2f38"/><rect x="1222" y="1313" width="183.8" height="7" rx="2.6" fill="#333842"/><rect x="1223.4" y="1320.4" width="148.4" height="64.6" fill="#101012"/><rect x="1373.8" y="1320.4" width="31" height="33.4" fill="#101012"/><rect x="1373.8" y="1353.8" width="31" height="31.2" fill="#363c4a"/><rect x="1384" y="1363.4" width="11" height="11" fill="#101012"/><rect x="1373.8" y="1373.6" width="31" height="11.4" fill="#101012"/><rect x="1224.6" y="1321.4" width="8.4" height="9.2" rx="1" fill="url(#gKey)"/><rect x="1239.4" y="1321.4" width="8.6" height="9.2" rx="1" fill="url(#gKey)"/><rect x="1249.6" y="1321.4" width="8.6" height="9.2" rx="1" fill="url(#gKey)"/><rect x="1259.8" y="1321.4" width="8.6" height="9.2" rx="1" fill="url(#gKey)"/><rect x="1270.0" y="1321.4" width="8.6" height="9.2" rx="1" fill="url(#gKey)"/><rect x="1285.6" y="1321.4" width="8.6" height="9.2" rx="1" fill="url(#gKey)"/><rect x="1295.8" y="1321.4" width="8.6" height="9.2" rx="1" fill="url(#gKey)"/><rect x="1306.0" y="1321.4" width="8.6" height="9.2" rx="1" fill="url(#gKey)"/><rect x="1316.2" y="1321.4" width="8.6" height="9.2" rx="1" fill="url(#gKey)"/><rect x="1331.4" y="1321.4" width="8.6" height="9.2" rx="1" fill="url(#gKey)"/><rect x="1341.6" y="1321.4" width="8.6" height="9.2" rx="1" fill="url(#gKey)"/><rect x="1351.8" y="1321.4" width="8.6" height="9.2" rx="1" fill="url(#gKey)"/><rect x="1362.0" y="1321.4" width="8.6" height="9.2" rx="1" fill="url(#gKey)"/><rect x="1375.0" y="1321.4" width="8.6" height="9.2" rx="1" fill="url(#gKey)"/><rect x="1385.2" y="1321.4" width="8.6" height="9.2" rx="1" fill="url(#gKey)"/><rect x="1395.4" y="1321.4" width="8.6" height="9.2" rx="1" fill="url(#gKey)"/><rect x="1224.6" y="1333.8" width="8.4" height="9" rx="1" fill="url(#gKey)"/><rect x="1234.6" y="1333.8" width="8.4" height="9" rx="1" fill="url(#gKey)"/><rect x="1244.7" y="1333.8" width="8.4" height="9" rx="1" fill="url(#gKey)"/><rect x="1254.8" y="1333.8" width="8.4" height="9" rx="1" fill="url(#gKey)"/><rect x="1264.8" y="1333.8" width="8.4" height="9" rx="1" fill="url(#gKey)"/><rect x="1274.8" y="1333.8" width="8.4" height="9" rx="1" fill="url(#gKey)"/><rect x="1284.9" y="1333.8" width="8.4" height="9" rx="1" fill="url(#gKey)"/><rect x="1294.9" y="1333.8" width="8.4" height="9" rx="1" fill="url(#gKey)"/><rect x="1305.0" y="1333.8" width="8.4" height="9" rx="1" fill="url(#gKey)"/><rect x="1315.0" y="1333.8" width="8.4" height="9" rx="1" fill="url(#gKey)"/><rect x="1325.1" y="1333.8" width="8.4" height="9" rx="1" fill="url(#gKey)"/><rect x="1335.1" y="1333.8" width="8.4" height="9" rx="1" fill="url(#gKey)"/><rect x="1345.2" y="1333.8" width="8.4" height="9" rx="1" fill="url(#gKey)"/><rect x="1355.6" y="1333.8" width="14.6" height="9" rx="1" fill="url(#gKey)"/><rect x="1375.0" y="1333.8" width="8.6" height="9" rx="1" fill="url(#gKey)"/><rect x="1385.2" y="1333.8" width="8.6" height="9" rx="1" fill="url(#gKey)"/><rect x="1395.4" y="1333.8" width="8.6" height="9" rx="1" fill="url(#gKey)"/><rect x="1224.6" y="1343.8" width="13.0" height="9" rx="1" fill="url(#gKey)"/><rect x="1239.8" y="1343.8" width="8.4" height="9" rx="1" fill="url(#gKey)"/><rect x="1249.8" y="1343.8" width="8.4" height="9" rx="1" fill="url(#gKey)"/><rect x="1259.9" y="1343.8" width="8.4" height="9" rx="1" fill="url(#gKey)"/><rect x="1270.0" y="1343.8" width="8.4" height="9" rx="1" fill="url(#gKey)"/><rect x="1280.0" y="1343.8" width="8.4" height="9" rx="1" fill="url(#gKey)"/><rect x="1290.0" y="1343.8" width="8.4" height="9" rx="1" fill="url(#gKey)"/><rect x="1300.1" y="1343.8" width="8.4" height="9" rx="1" fill="url(#gKey)"/><rect x="1310.1" y="1343.8" width="8.4" height="9" rx="1" fill="url(#gKey)"/><rect x="1320.2" y="1343.8" width="8.4" height="9" rx="1" fill="url(#gKey)"/><rect x="1330.2" y="1343.8" width="8.4" height="9" rx="1" fill="url(#gKey)"/><rect x="1340.3" y="1343.8" width="8.4" height="9" rx="1" fill="url(#gKey)"/><rect x="1350.3" y="1343.8" width="8.4" height="9" rx="1" fill="url(#gKey)"/><rect x="1360.4" y="1343.8" width="8.4" height="9" rx="1" fill="url(#gKey)"/><rect x="1375.0" y="1343.8" width="8.6" height="9" rx="1" fill="url(#gKey)"/><rect x="1385.2" y="1343.8" width="8.6" height="9" rx="1" fill="url(#gKey)"/><rect x="1395.4" y="1343.8" width="8.6" height="9" rx="1" fill="url(#gKey)"/><rect x="1224.6" y="1354" width="15.6" height="9" rx="1" fill="url(#gKey)"/><rect x="1242.4" y="1354" width="8.4" height="9" rx="1" fill="url(#gKey)"/><rect x="1252.5" y="1354" width="8.4" height="9" rx="1" fill="url(#gKey)"/><rect x="1262.5" y="1354" width="8.4" height="9" rx="1" fill="url(#gKey)"/><rect x="1272.6" y="1354" width="8.4" height="9" rx="1" fill="url(#gKey)"/><rect x="1282.6" y="1354" width="8.4" height="9" rx="1" fill="url(#gKey)"/><rect x="1292.7" y="1354" width="8.4" height="9" rx="1" fill="url(#gKey)"/><rect x="1302.7" y="1354" width="8.4" height="9" rx="1" fill="url(#gKey)"/><rect x="1312.8" y="1354" width="8.4" height="9" rx="1" fill="url(#gKey)"/><rect x="1322.8" y="1354" width="8.4" height="9" rx="1" fill="url(#gKey)"/><rect x="1332.9" y="1354" width="8.4" height="9" rx="1" fill="url(#gKey)"/><rect x="1342.9" y="1354" width="8.4" height="9" rx="1" fill="url(#gKey)"/><rect x="1353.6" y="1354" width="16.6" height="9" rx="1" fill="url(#gKey)"/><rect x="1224.6" y="1364.2" width="20.6" height="9" rx="1" fill="url(#gKey)"/><rect x="1247.4" y="1364.2" width="8.4" height="9" rx="1" fill="url(#gKey)"/><rect x="1257.5" y="1364.2" width="8.4" height="9" rx="1" fill="url(#gKey)"/><rect x="1267.5" y="1364.2" width="8.4" height="9" rx="1" fill="url(#gKey)"/><rect x="1277.6" y="1364.2" width="8.4" height="9" rx="1" fill="url(#gKey)"/><rect x="1287.6" y="1364.2" width="8.4" height="9" rx="1" fill="url(#gKey)"/><rect x="1297.7" y="1364.2" width="8.4" height="9" rx="1" fill="url(#gKey)"/><rect x="1307.7" y="1364.2" width="8.4" height="9" rx="1" fill="url(#gKey)"/><rect x="1317.8" y="1364.2" width="8.4" height="9" rx="1" fill="url(#gKey)"/><rect x="1327.8" y="1364.2" width="8.4" height="9" rx="1" fill="url(#gKey)"/><rect x="1337.9" y="1364.2" width="8.4" height="9" rx="1" fill="url(#gKey)"/><rect x="1348.6" y="1364.2" width="21.6" height="9" rx="1" fill="url(#gKey)"/><rect x="1385.2" y="1364.2" width="8.6" height="9" rx="1" fill="url(#gKey)"/><rect x="1224.6" y="1374.6" width="10.4" height="9.2" rx="1" fill="url(#gKey)"/><rect x="1237.4" y="1374.6" width="10.4" height="9.2" rx="1" fill="url(#gKey)"/><rect x="1250.2" y="1374.6" width="10.4" height="9.2" rx="1" fill="url(#gKey)"/><rect x="1263.0" y="1374.6" width="57.6" height="9.2" rx="1" fill="url(#gKey)"/><rect x="1323.0" y="1374.6" width="10.0" height="9.2" rx="1" fill="url(#gKey)"/><rect x="1335.4" y="1374.6" width="10.0" height="9.2" rx="1" fill="url(#gKey)"/><rect x="1347.8" y="1374.6" width="10.0" height="9.2" rx="1" fill="url(#gKey)"/><rect x="1360.2" y="1374.6" width="10.0" height="9.2" rx="1" fill="url(#gKey)"/><rect x="1375.0" y="1374.6" width="8.6" height="9.2" rx="1" fill="url(#gKey)"/><rect x="1385.2" y="1374.6" width="8.6" height="9.2" rx="1" fill="url(#gKey)"/><rect x="1395.4" y="1374.6" width="8.6" height="9.2" rx="1" fill="url(#gKey)"/><g fill="#1a1c22"><rect x="1342" y="1315" width="6" height="2.6" rx="1.3"/><rect x="1352" y="1315" width="6" height="2.6" rx="1.3"/><rect x="1362" y="1315" width="6" height="2.6" rx="1.3"/><rect x="1375" y="1315" width="6" height="2.6" rx="1.3"/><rect x="1385" y="1315" width="6" height="2.6" rx="1.3"/><rect x="1395" y="1315" width="6" height="2.6" rx="1.3"/></g>
<text x="1253.6" y="1445.4" font-size="28.6" fill="#0c0c0e" font-weight="normal" text-anchor="start" textLength="125.4" lengthAdjust="spacingAndGlyphs" stroke="#0c0c0e" stroke-width="0.45">Keyboard</text>
</svg></body></html>
